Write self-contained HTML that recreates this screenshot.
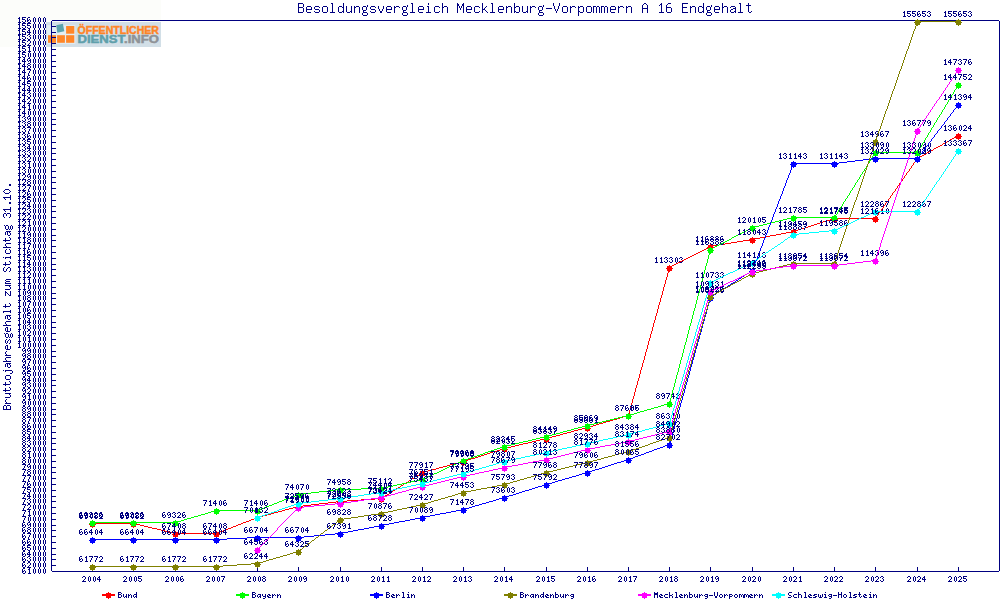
<!DOCTYPE html>
<html lang="de"><head><meta charset="utf-8"><title>Besoldungsvergleich Mecklenburg-Vorpommern A 16 Endgehalt</title><style>html,body{margin:0;padding:0;background:#fff}body{width:1000px;height:600px;overflow:hidden;font-family:"Liberation Sans",sans-serif}svg{display:block}</style></head><body>
<svg width="1000" height="600" viewBox="0 0 1000 600" shape-rendering="crispEdges" role="img" aria-label="Besoldungsvergleich Mecklenburg-Vorpommern A 16 Endgehalt">
<desc>Liniendiagramm: Bruttojahresgehalt zum Stichtag 31.10., Jahre 2004 bis 2025. Reihen: Bund, Bayern, Berlin, Brandenburg, Mecklenburg-Vorpommern, Schleswig-Holstein.</desc>
<defs><path id="l45" d="M1 8h6v1h-6z"/><path id="l49" d="M4 3h1v1h-1zM3 4h2v1h-2zM2 5h1v1h-1zM4 5h1v1h-1zM4 6h1v1h-1zM4 7h1v1h-1zM4 8h1v1h-1zM4 9h1v1h-1zM4 10h1v1h-1zM4 11h1v1h-1zM2 12h5v1h-5z"/><path id="l54" d="M3 3h3v1h-3zM2 4h1v1h-1zM1 5h1v1h-1zM1 6h1v1h-1zM1 7h5v1h-5zM1 8h1v1h-1zM6 8h1v1h-1zM1 9h1v1h-1zM6 9h1v1h-1zM1 10h1v1h-1zM6 10h1v1h-1zM1 11h1v1h-1zM6 11h1v1h-1zM2 12h4v1h-4z"/><path id="l65" d="M3 3h2v1h-2zM2 4h1v1h-1zM5 4h1v1h-1zM1 5h1v1h-1zM6 5h1v1h-1zM1 6h1v1h-1zM6 6h1v1h-1zM1 7h1v1h-1zM6 7h1v1h-1zM1 8h6v1h-6zM1 9h1v1h-1zM6 9h1v1h-1zM1 10h1v1h-1zM6 10h1v1h-1zM1 11h1v1h-1zM6 11h1v1h-1zM1 12h1v1h-1zM6 12h1v1h-1z"/><path id="l66" d="M1 3h5v1h-5zM1 4h1v1h-1zM6 4h1v1h-1zM1 5h1v1h-1zM6 5h1v1h-1zM1 6h1v1h-1zM6 6h1v1h-1zM1 7h5v1h-5zM1 8h1v1h-1zM6 8h1v1h-1zM1 9h1v1h-1zM6 9h1v1h-1zM1 10h1v1h-1zM6 10h1v1h-1zM1 11h1v1h-1zM6 11h1v1h-1zM1 12h5v1h-5z"/><path id="l69" d="M1 3h6v1h-6zM1 4h1v1h-1zM1 5h1v1h-1zM1 6h1v1h-1zM1 7h5v1h-5zM1 8h1v1h-1zM1 9h1v1h-1zM1 10h1v1h-1zM1 11h1v1h-1zM1 12h6v1h-6z"/><path id="l77" d="M0 3h1v1h-1zM6 3h1v1h-1zM0 4h2v1h-2zM5 4h2v1h-2zM0 5h2v1h-2zM5 5h2v1h-2zM0 6h1v1h-1zM2 6h1v1h-1zM4 6h1v1h-1zM6 6h1v1h-1zM0 7h1v1h-1zM2 7h1v1h-1zM4 7h1v1h-1zM6 7h1v1h-1zM0 8h1v1h-1zM3 8h1v1h-1zM6 8h1v1h-1zM0 9h1v1h-1zM3 9h1v1h-1zM6 9h1v1h-1zM0 10h1v1h-1zM6 10h1v1h-1zM0 11h1v1h-1zM6 11h1v1h-1zM0 12h1v1h-1zM6 12h1v1h-1z"/><path id="l86" d="M0 3h1v1h-1zM6 3h1v1h-1zM0 4h1v1h-1zM6 4h1v1h-1zM0 5h1v1h-1zM6 5h1v1h-1zM1 6h1v1h-1zM5 6h1v1h-1zM1 7h1v1h-1zM5 7h1v1h-1zM1 8h1v1h-1zM5 8h1v1h-1zM2 9h1v1h-1zM4 9h1v1h-1zM2 10h1v1h-1zM4 10h1v1h-1zM3 11h1v1h-1zM3 12h1v1h-1z"/><path id="l97" d="M2 6h4v1h-4zM1 7h1v1h-1zM6 7h1v1h-1zM4 8h3v1h-3zM2 9h2v1h-2zM6 9h1v1h-1zM1 10h1v1h-1zM6 10h1v1h-1zM1 11h1v1h-1zM5 11h2v1h-2zM2 12h3v1h-3zM6 12h1v1h-1z"/><path id="l98" d="M1 3h1v1h-1zM1 4h1v1h-1zM1 5h1v1h-1zM1 6h1v1h-1zM3 6h3v1h-3zM1 7h2v1h-2zM6 7h1v1h-1zM1 8h1v1h-1zM6 8h1v1h-1zM1 9h1v1h-1zM6 9h1v1h-1zM1 10h1v1h-1zM6 10h1v1h-1zM1 11h2v1h-2zM6 11h1v1h-1zM1 12h1v1h-1zM3 12h3v1h-3z"/><path id="l99" d="M2 6h4v1h-4zM1 7h1v1h-1zM6 7h1v1h-1zM1 8h1v1h-1zM1 9h1v1h-1zM1 10h1v1h-1zM1 11h1v1h-1zM6 11h1v1h-1zM2 12h4v1h-4z"/><path id="l100" d="M6 3h1v1h-1zM6 4h1v1h-1zM6 5h1v1h-1zM2 6h3v1h-3zM6 6h1v1h-1zM1 7h1v1h-1zM5 7h2v1h-2zM1 8h1v1h-1zM6 8h1v1h-1zM1 9h1v1h-1zM6 9h1v1h-1zM1 10h1v1h-1zM6 10h1v1h-1zM1 11h1v1h-1zM5 11h2v1h-2zM2 12h3v1h-3zM6 12h1v1h-1z"/><path id="l101" d="M2 6h4v1h-4zM1 7h1v1h-1zM6 7h1v1h-1zM1 8h1v1h-1zM6 8h1v1h-1zM1 9h6v1h-6zM1 10h1v1h-1zM1 11h1v1h-1zM2 12h4v1h-4z"/><path id="l103" d="M6 5h1v1h-1zM2 6h3v1h-3zM6 6h1v1h-1zM1 7h1v1h-1zM5 7h1v1h-1zM1 8h1v1h-1zM5 8h1v1h-1zM1 9h1v1h-1zM5 9h1v1h-1zM2 10h3v1h-3zM2 11h1v1h-1zM2 12h4v1h-4zM1 13h1v1h-1zM6 13h1v1h-1zM1 14h1v1h-1zM6 14h1v1h-1zM2 15h4v1h-4z"/><path id="l104" d="M1 3h1v1h-1zM1 4h1v1h-1zM1 5h1v1h-1zM1 6h1v1h-1zM3 6h3v1h-3zM1 7h2v1h-2zM6 7h1v1h-1zM1 8h1v1h-1zM6 8h1v1h-1zM1 9h1v1h-1zM6 9h1v1h-1zM1 10h1v1h-1zM6 10h1v1h-1zM1 11h1v1h-1zM6 11h1v1h-1zM1 12h1v1h-1zM6 12h1v1h-1z"/><path id="l105" d="M3 3h1v1h-1zM3 4h1v1h-1zM2 6h2v1h-2zM3 7h1v1h-1zM3 8h1v1h-1zM3 9h1v1h-1zM3 10h1v1h-1zM3 11h1v1h-1zM1 12h5v1h-5z"/><path id="l107" d="M1 3h1v1h-1zM1 4h1v1h-1zM1 5h1v1h-1zM1 6h1v1h-1zM5 6h1v1h-1zM1 7h1v1h-1zM4 7h1v1h-1zM1 8h1v1h-1zM3 8h1v1h-1zM1 9h3v1h-3zM1 10h1v1h-1zM4 10h1v1h-1zM1 11h1v1h-1zM5 11h1v1h-1zM1 12h1v1h-1zM6 12h1v1h-1z"/><path id="l108" d="M2 3h2v1h-2zM3 4h1v1h-1zM3 5h1v1h-1zM3 6h1v1h-1zM3 7h1v1h-1zM3 8h1v1h-1zM3 9h1v1h-1zM3 10h1v1h-1zM3 11h1v1h-1zM1 12h5v1h-5z"/><path id="l109" d="M0 6h3v1h-3zM4 6h2v1h-2zM0 7h1v1h-1zM3 7h1v1h-1zM6 7h1v1h-1zM0 8h1v1h-1zM3 8h1v1h-1zM6 8h1v1h-1zM0 9h1v1h-1zM3 9h1v1h-1zM6 9h1v1h-1zM0 10h1v1h-1zM3 10h1v1h-1zM6 10h1v1h-1zM0 11h1v1h-1zM3 11h1v1h-1zM6 11h1v1h-1zM0 12h1v1h-1zM3 12h1v1h-1zM6 12h1v1h-1z"/><path id="l110" d="M1 6h1v1h-1zM3 6h3v1h-3zM1 7h2v1h-2zM6 7h1v1h-1zM1 8h1v1h-1zM6 8h1v1h-1zM1 9h1v1h-1zM6 9h1v1h-1zM1 10h1v1h-1zM6 10h1v1h-1zM1 11h1v1h-1zM6 11h1v1h-1zM1 12h1v1h-1zM6 12h1v1h-1z"/><path id="l111" d="M2 6h4v1h-4zM1 7h1v1h-1zM6 7h1v1h-1zM1 8h1v1h-1zM6 8h1v1h-1zM1 9h1v1h-1zM6 9h1v1h-1zM1 10h1v1h-1zM6 10h1v1h-1zM1 11h1v1h-1zM6 11h1v1h-1zM2 12h4v1h-4z"/><path id="l112" d="M1 6h1v1h-1zM3 6h3v1h-3zM1 7h2v1h-2zM6 7h1v1h-1zM1 8h1v1h-1zM6 8h1v1h-1zM1 9h1v1h-1zM6 9h1v1h-1zM1 10h1v1h-1zM6 10h1v1h-1zM1 11h2v1h-2zM6 11h1v1h-1zM1 12h1v1h-1zM3 12h3v1h-3zM1 13h1v1h-1zM1 14h1v1h-1zM1 15h1v1h-1z"/><path id="l114" d="M1 6h1v1h-1zM3 6h3v1h-3zM1 7h2v1h-2zM6 7h1v1h-1zM1 8h1v1h-1zM1 9h1v1h-1zM1 10h1v1h-1zM1 11h1v1h-1zM1 12h1v1h-1z"/><path id="l115" d="M2 6h4v1h-4zM1 7h1v1h-1zM6 7h1v1h-1zM1 8h1v1h-1zM2 9h4v1h-4zM6 10h1v1h-1zM1 11h1v1h-1zM6 11h1v1h-1zM2 12h4v1h-4z"/><path id="l116" d="M3 3h1v1h-1zM3 4h1v1h-1zM1 5h5v1h-5zM3 6h1v1h-1zM3 7h1v1h-1zM3 8h1v1h-1zM3 9h1v1h-1zM3 10h1v1h-1zM3 11h1v1h-1zM6 11h1v1h-1zM4 12h2v1h-2z"/><path id="l117" d="M1 6h1v1h-1zM6 6h1v1h-1zM1 7h1v1h-1zM6 7h1v1h-1zM1 8h1v1h-1zM6 8h1v1h-1zM1 9h1v1h-1zM6 9h1v1h-1zM1 10h1v1h-1zM6 10h1v1h-1zM1 11h1v1h-1zM5 11h2v1h-2zM2 12h3v1h-3zM6 12h1v1h-1z"/><path id="l118" d="M1 6h1v1h-1zM6 6h1v1h-1zM1 7h1v1h-1zM6 7h1v1h-1zM1 8h1v1h-1zM6 8h1v1h-1zM2 9h1v1h-1zM5 9h1v1h-1zM2 10h1v1h-1zM5 10h1v1h-1zM3 11h2v1h-2zM3 12h2v1h-2z"/><path id="s46" d="M2 9h2v1h-2zM2 10h2v1h-2z"/><path id="s48" d="M2 3h1v1h-1zM1 4h1v1h-1zM3 4h1v1h-1zM0 5h1v1h-1zM4 5h1v1h-1zM0 6h1v1h-1zM4 6h1v1h-1zM0 7h1v1h-1zM4 7h1v1h-1zM0 8h1v1h-1zM4 8h1v1h-1zM1 9h1v1h-1zM3 9h1v1h-1zM2 10h1v1h-1z"/><path id="s49" d="M2 3h1v1h-1zM1 4h2v1h-2zM0 5h1v1h-1zM2 5h1v1h-1zM2 6h1v1h-1zM2 7h1v1h-1zM2 8h1v1h-1zM2 9h1v1h-1zM0 10h5v1h-5z"/><path id="s51" d="M1 3h3v1h-3zM0 4h1v1h-1zM4 4h1v1h-1zM4 5h1v1h-1zM2 6h2v1h-2zM4 7h1v1h-1zM4 8h1v1h-1zM0 9h1v1h-1zM4 9h1v1h-1zM1 10h3v1h-3z"/><path id="s66" d="M0 3h4v1h-4zM0 4h1v1h-1zM4 4h1v1h-1zM0 5h1v1h-1zM4 5h1v1h-1zM0 6h4v1h-4zM0 7h1v1h-1zM4 7h1v1h-1zM0 8h1v1h-1zM4 8h1v1h-1zM0 9h1v1h-1zM4 9h1v1h-1zM0 10h4v1h-4z"/><path id="s83" d="M1 3h3v1h-3zM0 4h1v1h-1zM4 4h1v1h-1zM0 5h1v1h-1zM1 6h2v1h-2zM3 7h1v1h-1zM4 8h1v1h-1zM0 9h1v1h-1zM4 9h1v1h-1zM1 10h3v1h-3z"/><path id="s97" d="M1 5h3v1h-3zM4 6h1v1h-1zM1 7h4v1h-4zM0 8h1v1h-1zM4 8h1v1h-1zM0 9h1v1h-1zM3 9h2v1h-2zM1 10h2v1h-2zM4 10h1v1h-1z"/><path id="s99" d="M1 5h3v1h-3zM0 6h1v1h-1zM4 6h1v1h-1zM0 7h1v1h-1zM0 8h1v1h-1zM0 9h1v1h-1zM4 9h1v1h-1zM1 10h3v1h-3z"/><path id="s101" d="M1 5h3v1h-3zM0 6h1v1h-1zM4 6h1v1h-1zM0 7h5v1h-5zM0 8h1v1h-1zM0 9h1v1h-1zM1 10h3v1h-3z"/><path id="s103" d="M4 4h1v1h-1zM1 5h3v1h-3zM0 6h1v1h-1zM4 6h1v1h-1zM0 7h1v1h-1zM4 7h1v1h-1zM1 8h3v1h-3zM0 9h1v1h-1zM1 10h3v1h-3zM0 11h1v1h-1zM4 11h1v1h-1zM1 12h3v1h-3z"/><path id="s104" d="M0 3h1v1h-1zM0 4h1v1h-1zM0 5h1v1h-1zM2 5h2v1h-2zM0 6h2v1h-2zM4 6h1v1h-1zM0 7h1v1h-1zM4 7h1v1h-1zM0 8h1v1h-1zM4 8h1v1h-1zM0 9h1v1h-1zM4 9h1v1h-1zM0 10h1v1h-1zM4 10h1v1h-1z"/><path id="s105" d="M2 3h1v1h-1zM1 5h2v1h-2zM2 6h1v1h-1zM2 7h1v1h-1zM2 8h1v1h-1zM2 9h1v1h-1zM1 10h3v1h-3z"/><path id="s106" d="M3 3h1v1h-1zM2 5h2v1h-2zM3 6h1v1h-1zM3 7h1v1h-1zM3 8h1v1h-1zM3 9h1v1h-1zM0 10h1v1h-1zM3 10h1v1h-1zM0 11h1v1h-1zM3 11h1v1h-1zM1 12h2v1h-2z"/><path id="s108" d="M1 3h2v1h-2zM2 4h1v1h-1zM2 5h1v1h-1zM2 6h1v1h-1zM2 7h1v1h-1zM2 8h1v1h-1zM2 9h1v1h-1zM1 10h3v1h-3z"/><path id="s109" d="M0 5h2v1h-2zM3 5h1v1h-1zM0 6h1v1h-1zM2 6h1v1h-1zM4 6h1v1h-1zM0 7h1v1h-1zM2 7h1v1h-1zM4 7h1v1h-1zM0 8h1v1h-1zM2 8h1v1h-1zM4 8h1v1h-1zM0 9h1v1h-1zM2 9h1v1h-1zM4 9h1v1h-1zM0 10h1v1h-1zM4 10h1v1h-1z"/><path id="s111" d="M1 5h3v1h-3zM0 6h1v1h-1zM4 6h1v1h-1zM0 7h1v1h-1zM4 7h1v1h-1zM0 8h1v1h-1zM4 8h1v1h-1zM0 9h1v1h-1zM4 9h1v1h-1zM1 10h3v1h-3z"/><path id="s114" d="M0 5h1v1h-1zM2 5h2v1h-2zM0 6h2v1h-2zM4 6h1v1h-1zM0 7h1v1h-1zM0 8h1v1h-1zM0 9h1v1h-1zM0 10h1v1h-1z"/><path id="s115" d="M1 5h3v1h-3zM0 6h1v1h-1zM4 6h1v1h-1zM1 7h2v1h-2zM3 8h1v1h-1zM0 9h1v1h-1zM4 9h1v1h-1zM1 10h3v1h-3z"/><path id="s116" d="M1 3h1v1h-1zM1 4h1v1h-1zM0 5h4v1h-4zM1 6h1v1h-1zM1 7h1v1h-1zM1 8h1v1h-1zM1 9h1v1h-1zM4 9h1v1h-1zM2 10h2v1h-2z"/><path id="s117" d="M0 5h1v1h-1zM4 5h1v1h-1zM0 6h1v1h-1zM4 6h1v1h-1zM0 7h1v1h-1zM4 7h1v1h-1zM0 8h1v1h-1zM4 8h1v1h-1zM0 9h1v1h-1zM3 9h2v1h-2zM1 10h2v1h-2zM4 10h1v1h-1z"/><path id="s122" d="M0 5h5v1h-5zM3 6h1v1h-1zM2 7h1v1h-1zM1 8h1v1h-1zM0 9h1v1h-1zM0 10h5v1h-5z"/><path id="t45" d="M0 4h4v1h-4z"/><path id="t48" d="M2 1h1v1h-1zM1 2h1v1h-1zM3 2h1v1h-1zM1 3h1v1h-1zM3 3h1v1h-1zM1 4h1v1h-1zM3 4h1v1h-1zM1 5h1v1h-1zM3 5h1v1h-1zM2 6h1v1h-1z"/><path id="t49" d="M2 1h1v1h-1zM1 2h2v1h-2zM2 3h1v1h-1zM2 4h1v1h-1zM2 5h1v1h-1zM1 6h3v1h-3z"/><path id="t50" d="M1 1h2v1h-2zM0 2h1v1h-1zM3 2h1v1h-1zM3 3h1v1h-1zM2 4h1v1h-1zM1 5h1v1h-1zM0 6h4v1h-4z"/><path id="t51" d="M1 1h2v1h-2zM0 2h1v1h-1zM3 2h1v1h-1zM2 3h1v1h-1zM3 4h1v1h-1zM0 5h1v1h-1zM3 5h1v1h-1zM1 6h2v1h-2z"/><path id="t52" d="M2 1h1v1h-1zM1 2h2v1h-2zM0 3h1v1h-1zM2 3h1v1h-1zM0 4h4v1h-4zM2 5h1v1h-1zM2 6h1v1h-1z"/><path id="t53" d="M0 1h4v1h-4zM0 2h1v1h-1zM0 3h3v1h-3zM3 4h1v1h-1zM0 5h1v1h-1zM3 5h1v1h-1zM1 6h2v1h-2z"/><path id="t54" d="M1 1h2v1h-2zM0 2h1v1h-1zM0 3h1v1h-1zM2 3h1v1h-1zM0 4h2v1h-2zM3 4h1v1h-1zM0 5h1v1h-1zM3 5h1v1h-1zM1 6h2v1h-2z"/><path id="t55" d="M0 1h4v1h-4zM3 2h1v1h-1zM2 3h1v1h-1zM2 4h1v1h-1zM1 5h1v1h-1zM1 6h1v1h-1z"/><path id="t56" d="M1 1h2v1h-2zM0 2h1v1h-1zM3 2h1v1h-1zM1 3h2v1h-2zM0 4h1v1h-1zM3 4h1v1h-1zM0 5h1v1h-1zM3 5h1v1h-1zM1 6h2v1h-2z"/><path id="t57" d="M1 1h2v1h-2zM0 2h1v1h-1zM3 2h1v1h-1zM0 3h1v1h-1zM2 3h2v1h-2zM1 4h1v1h-1zM3 4h1v1h-1zM3 5h1v1h-1zM1 6h2v1h-2z"/><path id="t66" d="M0 1h3v1h-3zM0 2h1v1h-1zM3 2h1v1h-1zM0 3h3v1h-3zM0 4h1v1h-1zM3 4h1v1h-1zM0 5h1v1h-1zM3 5h1v1h-1zM0 6h3v1h-3z"/><path id="t72" d="M0 1h1v1h-1zM3 1h1v1h-1zM0 2h1v1h-1zM3 2h1v1h-1zM0 3h4v1h-4zM0 4h1v1h-1zM3 4h1v1h-1zM0 5h1v1h-1zM3 5h1v1h-1zM0 6h1v1h-1zM3 6h1v1h-1z"/><path id="t77" d="M0 1h1v1h-1zM3 1h1v1h-1zM0 2h4v1h-4zM0 3h4v1h-4zM0 4h1v1h-1zM3 4h1v1h-1zM0 5h1v1h-1zM3 5h1v1h-1zM0 6h1v1h-1zM3 6h1v1h-1z"/><path id="t83" d="M1 1h3v1h-3zM0 2h1v1h-1zM0 3h1v1h-1zM1 4h2v1h-2zM3 5h1v1h-1zM0 6h3v1h-3z"/><path id="t86" d="M0 1h1v1h-1zM3 1h1v1h-1zM0 2h1v1h-1zM3 2h1v1h-1zM0 3h1v1h-1zM3 3h1v1h-1zM0 4h1v1h-1zM3 4h1v1h-1zM1 5h2v1h-2zM1 6h2v1h-2z"/><path id="t97" d="M1 3h3v1h-3zM0 4h1v1h-1zM3 4h1v1h-1zM0 5h1v1h-1zM2 5h2v1h-2zM1 6h1v1h-1zM3 6h1v1h-1z"/><path id="t98" d="M0 1h1v1h-1zM0 2h1v1h-1zM0 3h3v1h-3zM0 4h1v1h-1zM3 4h1v1h-1zM0 5h1v1h-1zM3 5h1v1h-1zM0 6h3v1h-3z"/><path id="t99" d="M1 3h3v1h-3zM0 4h1v1h-1zM0 5h1v1h-1zM1 6h3v1h-3z"/><path id="t100" d="M3 1h1v1h-1zM3 2h1v1h-1zM1 3h3v1h-3zM0 4h1v1h-1zM3 4h1v1h-1zM0 5h1v1h-1zM2 5h2v1h-2zM1 6h1v1h-1zM3 6h1v1h-1z"/><path id="t101" d="M1 3h2v1h-2zM0 4h1v1h-1zM2 4h2v1h-2zM0 5h2v1h-2zM1 6h3v1h-3z"/><path id="t103" d="M1 3h3v1h-3zM0 4h1v1h-1zM3 4h1v1h-1zM1 5h3v1h-3zM3 6h1v1h-1zM1 7h2v1h-2z"/><path id="t104" d="M0 1h1v1h-1zM0 2h1v1h-1zM0 3h3v1h-3zM0 4h1v1h-1zM3 4h1v1h-1zM0 5h1v1h-1zM3 5h1v1h-1zM0 6h1v1h-1zM3 6h1v1h-1z"/><path id="t105" d="M2 1h1v1h-1zM1 3h2v1h-2zM2 4h1v1h-1zM2 5h1v1h-1zM1 6h3v1h-3z"/><path id="t107" d="M0 1h1v1h-1zM0 2h1v1h-1zM0 3h1v1h-1zM3 3h1v1h-1zM0 4h3v1h-3zM0 5h1v1h-1zM3 5h1v1h-1zM0 6h1v1h-1zM3 6h1v1h-1z"/><path id="t108" d="M1 1h2v1h-2zM2 2h1v1h-1zM2 3h1v1h-1zM2 4h1v1h-1zM2 5h1v1h-1zM1 6h3v1h-3z"/><path id="t109" d="M0 3h2v1h-2zM3 3h1v1h-1zM0 4h1v1h-1zM2 4h1v1h-1zM4 4h1v1h-1zM0 5h1v1h-1zM2 5h1v1h-1zM4 5h1v1h-1zM0 6h1v1h-1zM4 6h1v1h-1z"/><path id="t110" d="M0 3h1v1h-1zM2 3h1v1h-1zM0 4h2v1h-2zM3 4h1v1h-1zM0 5h1v1h-1zM3 5h1v1h-1zM0 6h1v1h-1zM3 6h1v1h-1z"/><path id="t111" d="M1 3h2v1h-2zM0 4h1v1h-1zM3 4h1v1h-1zM0 5h1v1h-1zM3 5h1v1h-1zM1 6h2v1h-2z"/><path id="t112" d="M0 3h3v1h-3zM0 4h1v1h-1zM3 4h1v1h-1zM0 5h3v1h-3zM0 6h1v1h-1zM0 7h1v1h-1z"/><path id="t114" d="M0 3h1v1h-1zM2 3h1v1h-1zM0 4h2v1h-2zM3 4h1v1h-1zM0 5h1v1h-1zM0 6h1v1h-1z"/><path id="t115" d="M1 3h3v1h-3zM0 4h2v1h-2zM2 5h2v1h-2zM0 6h3v1h-3z"/><path id="t116" d="M1 1h1v1h-1zM1 2h1v1h-1zM0 3h3v1h-3zM1 4h1v1h-1zM1 5h1v1h-1zM3 5h1v1h-1zM2 6h1v1h-1z"/><path id="t117" d="M0 3h1v1h-1zM3 3h1v1h-1zM0 4h1v1h-1zM3 4h1v1h-1zM0 5h1v1h-1zM2 5h2v1h-2zM1 6h1v1h-1zM3 6h1v1h-1z"/><path id="t119" d="M0 3h1v1h-1zM4 3h1v1h-1zM0 4h1v1h-1zM2 4h1v1h-1zM4 4h1v1h-1zM0 5h1v1h-1zM2 5h1v1h-1zM4 5h1v1h-1zM1 6h3v1h-3z"/><path id="t121" d="M0 3h1v1h-1zM3 3h1v1h-1zM0 4h1v1h-1zM3 4h1v1h-1zM1 5h3v1h-3zM3 6h1v1h-1zM1 7h2v1h-2z"/><path id="mk" d="M-2 -2h5v5h-5zM-3 0h7v1h-7zM0 -3h1v7h-1z"/><path id="mk5" d="M-2 -2h5v5h-5zM0 -3h1v7h-1z"/></defs>
<rect width="1000" height="600" fill="#fff"/>
<rect x="0" y="0" width="161" height="47" fill="#fcfdfa"/>
<g id="logo"><rect x="46" y="22" width="115" height="25" fill="#d2dfe7"/><g shape-rendering="auto"><rect x="47" y="25.2" width="28.3" height="18.6" fill="#e4edf2"/><rect x="48" y="35.2" width="8" height="7.6" fill="#ff8628"/><rect x="57.1" y="35.2" width="7.8" height="7.6" fill="#ff8628"/><rect x="66.1" y="35.2" width="8.2" height="7.6" fill="#ff8628"/><rect x="66.1" y="26" width="8.2" height="7.7" fill="#ff8628"/></g><polygon points="56.2,25.2 62.9,23.7 64.3,31.3 57.3,32.8" fill="#5ba3ad" shape-rendering="auto"/><text x="77.5" y="33.6" font-family="Liberation Sans, sans-serif" font-weight="bold" font-size="10.2" fill="#ff8426" stroke="#ff8426" stroke-width="0.45" textLength="81.5" lengthAdjust="spacingAndGlyphs">ÖFFENTLICHER</text><text x="77.5" y="43.1" font-family="Liberation Sans, sans-serif" font-weight="bold" font-size="10.2" textLength="81.5" lengthAdjust="spacingAndGlyphs"><tspan fill="#5f9fab" stroke="#5f9fab" stroke-width="0.45">DIENST</tspan><tspan fill="#8f9297" stroke="#8f9297" stroke-width="0.45">.INFO</tspan></text></g>
<g id="title" fill="#000080"><use href="#l66" x="297" y="0"/><use href="#l101" x="305" y="0"/><use href="#l115" x="313" y="0"/><use href="#l111" x="321" y="0"/><use href="#l108" x="329" y="0"/><use href="#l100" x="337" y="0"/><use href="#l117" x="345" y="0"/><use href="#l110" x="353" y="0"/><use href="#l103" x="361" y="0"/><use href="#l115" x="369" y="0"/><use href="#l118" x="377" y="0"/><use href="#l101" x="385" y="0"/><use href="#l114" x="393" y="0"/><use href="#l103" x="401" y="0"/><use href="#l108" x="409" y="0"/><use href="#l101" x="417" y="0"/><use href="#l105" x="425" y="0"/><use href="#l99" x="433" y="0"/><use href="#l104" x="441" y="0"/><use href="#l77" x="457" y="0"/><use href="#l101" x="465" y="0"/><use href="#l99" x="473" y="0"/><use href="#l107" x="481" y="0"/><use href="#l108" x="489" y="0"/><use href="#l101" x="497" y="0"/><use href="#l110" x="505" y="0"/><use href="#l98" x="513" y="0"/><use href="#l117" x="521" y="0"/><use href="#l114" x="529" y="0"/><use href="#l103" x="537" y="0"/><use href="#l45" x="545" y="0"/><use href="#l86" x="553" y="0"/><use href="#l111" x="561" y="0"/><use href="#l114" x="569" y="0"/><use href="#l112" x="577" y="0"/><use href="#l111" x="585" y="0"/><use href="#l109" x="593" y="0"/><use href="#l109" x="601" y="0"/><use href="#l101" x="609" y="0"/><use href="#l114" x="617" y="0"/><use href="#l110" x="625" y="0"/><use href="#l65" x="641" y="0"/><use href="#l49" x="657" y="0"/><use href="#l54" x="665" y="0"/><use href="#l69" x="681" y="0"/><use href="#l110" x="689" y="0"/><use href="#l100" x="697" y="0"/><use href="#l103" x="705" y="0"/><use href="#l101" x="713" y="0"/><use href="#l104" x="721" y="0"/><use href="#l97" x="729" y="0"/><use href="#l108" x="737" y="0"/><use href="#l116" x="745" y="0"/></g>
<g id="ytitle" fill="#000080" transform="translate(0,410) rotate(-90)"><use href="#s66" x="0" y="0"/><use href="#s114" x="6" y="0"/><use href="#s117" x="12" y="0"/><use href="#s116" x="18" y="0"/><use href="#s116" x="24" y="0"/><use href="#s111" x="30" y="0"/><use href="#s106" x="36" y="0"/><use href="#s97" x="42" y="0"/><use href="#s104" x="48" y="0"/><use href="#s114" x="54" y="0"/><use href="#s101" x="60" y="0"/><use href="#s115" x="66" y="0"/><use href="#s103" x="72" y="0"/><use href="#s101" x="78" y="0"/><use href="#s104" x="84" y="0"/><use href="#s97" x="90" y="0"/><use href="#s108" x="96" y="0"/><use href="#s116" x="102" y="0"/><use href="#s122" x="114" y="0"/><use href="#s117" x="120" y="0"/><use href="#s109" x="126" y="0"/><use href="#s83" x="138" y="0"/><use href="#s116" x="144" y="0"/><use href="#s105" x="150" y="0"/><use href="#s99" x="156" y="0"/><use href="#s104" x="162" y="0"/><use href="#s116" x="168" y="0"/><use href="#s97" x="174" y="0"/><use href="#s103" x="180" y="0"/><use href="#s51" x="192" y="0"/><use href="#s49" x="198" y="0"/><use href="#s46" x="204" y="0"/><use href="#s49" x="210" y="0"/><use href="#s48" x="216" y="0"/><use href="#s46" x="222" y="0"/></g>
<g id="axes" fill="#000080"><path d="M51 20h949v1h-949zM51 571h949v1h-949zM51 20v552h1v-552zM999 20v552h1v-552z"/><path d="M52 565h4v1h-4zM52 559h4v1h-4zM52 554h4v1h-4zM52 548h4v1h-4zM52 542h4v1h-4zM52 536h4v1h-4zM52 530h4v1h-4zM52 525h4v1h-4zM52 519h4v1h-4zM52 513h4v1h-4zM52 507h4v1h-4zM52 501h4v1h-4zM52 496h4v1h-4zM52 490h4v1h-4zM52 484h4v1h-4zM52 478h4v1h-4zM52 472h4v1h-4zM52 467h4v1h-4zM52 461h4v1h-4zM52 455h4v1h-4zM52 449h4v1h-4zM52 443h4v1h-4zM52 438h4v1h-4zM52 432h4v1h-4zM52 426h4v1h-4zM52 420h4v1h-4zM52 414h4v1h-4zM52 409h4v1h-4zM52 403h4v1h-4zM52 397h4v1h-4zM52 391h4v1h-4zM52 385h4v1h-4zM52 380h4v1h-4zM52 374h4v1h-4zM52 368h4v1h-4zM52 362h4v1h-4zM52 356h4v1h-4zM52 351h4v1h-4zM52 345h4v1h-4zM52 339h4v1h-4zM52 333h4v1h-4zM52 327h4v1h-4zM52 322h4v1h-4zM52 316h4v1h-4zM52 310h4v1h-4zM52 304h4v1h-4zM52 298h4v1h-4zM52 293h4v1h-4zM52 287h4v1h-4zM52 281h4v1h-4zM52 275h4v1h-4zM52 269h4v1h-4zM52 264h4v1h-4zM52 258h4v1h-4zM52 252h4v1h-4zM52 246h4v1h-4zM52 240h4v1h-4zM52 235h4v1h-4zM52 229h4v1h-4zM52 223h4v1h-4zM52 217h4v1h-4zM52 211h4v1h-4zM52 206h4v1h-4zM52 200h4v1h-4zM52 194h4v1h-4zM52 188h4v1h-4zM52 182h4v1h-4zM52 177h4v1h-4zM52 171h4v1h-4zM52 165h4v1h-4zM52 159h4v1h-4zM52 153h4v1h-4zM52 148h4v1h-4zM52 142h4v1h-4zM52 136h4v1h-4zM52 130h4v1h-4zM52 124h4v1h-4zM52 119h4v1h-4zM52 113h4v1h-4zM52 107h4v1h-4zM52 101h4v1h-4zM52 95h4v1h-4zM52 90h4v1h-4zM52 84h4v1h-4zM52 78h4v1h-4zM52 72h4v1h-4zM52 66h4v1h-4zM52 61h4v1h-4zM52 55h4v1h-4zM52 49h4v1h-4zM52 43h4v1h-4zM52 37h4v1h-4zM52 32h4v1h-4zM52 26h4v1h-4zM92 567v4h1v-4zM133 567v4h1v-4zM175 567v4h1v-4zM216 567v4h1v-4zM257 567v4h1v-4zM298 567v4h1v-4zM340 567v4h1v-4zM381 567v4h1v-4zM422 567v4h1v-4zM463 567v4h1v-4zM504 567v4h1v-4zM546 567v4h1v-4zM587 567v4h1v-4zM628 567v4h1v-4zM669 567v4h1v-4zM710 567v4h1v-4zM752 567v4h1v-4zM793 567v4h1v-4zM834 567v4h1v-4zM875 567v4h1v-4zM917 567v4h1v-4zM958 567v4h1v-4z"/><use href="#t54" x="22" y="567"/><use href="#t49" x="27" y="567"/><use href="#t48" x="32" y="567"/><use href="#t48" x="37" y="567"/><use href="#t48" x="42" y="567"/><use href="#t54" x="22" y="561"/><use href="#t50" x="27" y="561"/><use href="#t48" x="32" y="561"/><use href="#t48" x="37" y="561"/><use href="#t48" x="42" y="561"/><use href="#t54" x="22" y="555"/><use href="#t51" x="27" y="555"/><use href="#t48" x="32" y="555"/><use href="#t48" x="37" y="555"/><use href="#t48" x="42" y="555"/><use href="#t54" x="22" y="550"/><use href="#t52" x="27" y="550"/><use href="#t48" x="32" y="550"/><use href="#t48" x="37" y="550"/><use href="#t48" x="42" y="550"/><use href="#t54" x="22" y="544"/><use href="#t53" x="27" y="544"/><use href="#t48" x="32" y="544"/><use href="#t48" x="37" y="544"/><use href="#t48" x="42" y="544"/><use href="#t54" x="22" y="538"/><use href="#t54" x="27" y="538"/><use href="#t48" x="32" y="538"/><use href="#t48" x="37" y="538"/><use href="#t48" x="42" y="538"/><use href="#t54" x="22" y="532"/><use href="#t55" x="27" y="532"/><use href="#t48" x="32" y="532"/><use href="#t48" x="37" y="532"/><use href="#t48" x="42" y="532"/><use href="#t54" x="22" y="526"/><use href="#t56" x="27" y="526"/><use href="#t48" x="32" y="526"/><use href="#t48" x="37" y="526"/><use href="#t48" x="42" y="526"/><use href="#t54" x="22" y="521"/><use href="#t57" x="27" y="521"/><use href="#t48" x="32" y="521"/><use href="#t48" x="37" y="521"/><use href="#t48" x="42" y="521"/><use href="#t55" x="22" y="515"/><use href="#t48" x="27" y="515"/><use href="#t48" x="32" y="515"/><use href="#t48" x="37" y="515"/><use href="#t48" x="42" y="515"/><use href="#t55" x="22" y="509"/><use href="#t49" x="27" y="509"/><use href="#t48" x="32" y="509"/><use href="#t48" x="37" y="509"/><use href="#t48" x="42" y="509"/><use href="#t55" x="22" y="503"/><use href="#t50" x="27" y="503"/><use href="#t48" x="32" y="503"/><use href="#t48" x="37" y="503"/><use href="#t48" x="42" y="503"/><use href="#t55" x="22" y="497"/><use href="#t51" x="27" y="497"/><use href="#t48" x="32" y="497"/><use href="#t48" x="37" y="497"/><use href="#t48" x="42" y="497"/><use href="#t55" x="22" y="492"/><use href="#t52" x="27" y="492"/><use href="#t48" x="32" y="492"/><use href="#t48" x="37" y="492"/><use href="#t48" x="42" y="492"/><use href="#t55" x="22" y="486"/><use href="#t53" x="27" y="486"/><use href="#t48" x="32" y="486"/><use href="#t48" x="37" y="486"/><use href="#t48" x="42" y="486"/><use href="#t55" x="22" y="480"/><use href="#t54" x="27" y="480"/><use href="#t48" x="32" y="480"/><use href="#t48" x="37" y="480"/><use href="#t48" x="42" y="480"/><use href="#t55" x="22" y="474"/><use href="#t55" x="27" y="474"/><use href="#t48" x="32" y="474"/><use href="#t48" x="37" y="474"/><use href="#t48" x="42" y="474"/><use href="#t55" x="22" y="468"/><use href="#t56" x="27" y="468"/><use href="#t48" x="32" y="468"/><use href="#t48" x="37" y="468"/><use href="#t48" x="42" y="468"/><use href="#t55" x="22" y="463"/><use href="#t57" x="27" y="463"/><use href="#t48" x="32" y="463"/><use href="#t48" x="37" y="463"/><use href="#t48" x="42" y="463"/><use href="#t56" x="22" y="457"/><use href="#t48" x="27" y="457"/><use href="#t48" x="32" y="457"/><use href="#t48" x="37" y="457"/><use href="#t48" x="42" y="457"/><use href="#t56" x="22" y="451"/><use href="#t49" x="27" y="451"/><use href="#t48" x="32" y="451"/><use href="#t48" x="37" y="451"/><use href="#t48" x="42" y="451"/><use href="#t56" x="22" y="445"/><use href="#t50" x="27" y="445"/><use href="#t48" x="32" y="445"/><use href="#t48" x="37" y="445"/><use href="#t48" x="42" y="445"/><use href="#t56" x="22" y="439"/><use href="#t51" x="27" y="439"/><use href="#t48" x="32" y="439"/><use href="#t48" x="37" y="439"/><use href="#t48" x="42" y="439"/><use href="#t56" x="22" y="434"/><use href="#t52" x="27" y="434"/><use href="#t48" x="32" y="434"/><use href="#t48" x="37" y="434"/><use href="#t48" x="42" y="434"/><use href="#t56" x="22" y="428"/><use href="#t53" x="27" y="428"/><use href="#t48" x="32" y="428"/><use href="#t48" x="37" y="428"/><use href="#t48" x="42" y="428"/><use href="#t56" x="22" y="422"/><use href="#t54" x="27" y="422"/><use href="#t48" x="32" y="422"/><use href="#t48" x="37" y="422"/><use href="#t48" x="42" y="422"/><use href="#t56" x="22" y="416"/><use href="#t55" x="27" y="416"/><use href="#t48" x="32" y="416"/><use href="#t48" x="37" y="416"/><use href="#t48" x="42" y="416"/><use href="#t56" x="22" y="410"/><use href="#t56" x="27" y="410"/><use href="#t48" x="32" y="410"/><use href="#t48" x="37" y="410"/><use href="#t48" x="42" y="410"/><use href="#t56" x="22" y="405"/><use href="#t57" x="27" y="405"/><use href="#t48" x="32" y="405"/><use href="#t48" x="37" y="405"/><use href="#t48" x="42" y="405"/><use href="#t57" x="22" y="399"/><use href="#t48" x="27" y="399"/><use href="#t48" x="32" y="399"/><use href="#t48" x="37" y="399"/><use href="#t48" x="42" y="399"/><use href="#t57" x="22" y="393"/><use href="#t49" x="27" y="393"/><use href="#t48" x="32" y="393"/><use href="#t48" x="37" y="393"/><use href="#t48" x="42" y="393"/><use href="#t57" x="22" y="387"/><use href="#t50" x="27" y="387"/><use href="#t48" x="32" y="387"/><use href="#t48" x="37" y="387"/><use href="#t48" x="42" y="387"/><use href="#t57" x="22" y="381"/><use href="#t51" x="27" y="381"/><use href="#t48" x="32" y="381"/><use href="#t48" x="37" y="381"/><use href="#t48" x="42" y="381"/><use href="#t57" x="22" y="376"/><use href="#t52" x="27" y="376"/><use href="#t48" x="32" y="376"/><use href="#t48" x="37" y="376"/><use href="#t48" x="42" y="376"/><use href="#t57" x="22" y="370"/><use href="#t53" x="27" y="370"/><use href="#t48" x="32" y="370"/><use href="#t48" x="37" y="370"/><use href="#t48" x="42" y="370"/><use href="#t57" x="22" y="364"/><use href="#t54" x="27" y="364"/><use href="#t48" x="32" y="364"/><use href="#t48" x="37" y="364"/><use href="#t48" x="42" y="364"/><use href="#t57" x="22" y="358"/><use href="#t55" x="27" y="358"/><use href="#t48" x="32" y="358"/><use href="#t48" x="37" y="358"/><use href="#t48" x="42" y="358"/><use href="#t57" x="22" y="352"/><use href="#t56" x="27" y="352"/><use href="#t48" x="32" y="352"/><use href="#t48" x="37" y="352"/><use href="#t48" x="42" y="352"/><use href="#t57" x="22" y="347"/><use href="#t57" x="27" y="347"/><use href="#t48" x="32" y="347"/><use href="#t48" x="37" y="347"/><use href="#t48" x="42" y="347"/><use href="#t49" x="17" y="341"/><use href="#t48" x="22" y="341"/><use href="#t48" x="27" y="341"/><use href="#t48" x="32" y="341"/><use href="#t48" x="37" y="341"/><use href="#t48" x="42" y="341"/><use href="#t49" x="17" y="335"/><use href="#t48" x="22" y="335"/><use href="#t49" x="27" y="335"/><use href="#t48" x="32" y="335"/><use href="#t48" x="37" y="335"/><use href="#t48" x="42" y="335"/><use href="#t49" x="17" y="329"/><use href="#t48" x="22" y="329"/><use href="#t50" x="27" y="329"/><use href="#t48" x="32" y="329"/><use href="#t48" x="37" y="329"/><use href="#t48" x="42" y="329"/><use href="#t49" x="17" y="323"/><use href="#t48" x="22" y="323"/><use href="#t51" x="27" y="323"/><use href="#t48" x="32" y="323"/><use href="#t48" x="37" y="323"/><use href="#t48" x="42" y="323"/><use href="#t49" x="17" y="318"/><use href="#t48" x="22" y="318"/><use href="#t52" x="27" y="318"/><use href="#t48" x="32" y="318"/><use href="#t48" x="37" y="318"/><use href="#t48" x="42" y="318"/><use href="#t49" x="17" y="312"/><use href="#t48" x="22" y="312"/><use href="#t53" x="27" y="312"/><use href="#t48" x="32" y="312"/><use href="#t48" x="37" y="312"/><use href="#t48" x="42" y="312"/><use href="#t49" x="17" y="306"/><use href="#t48" x="22" y="306"/><use href="#t54" x="27" y="306"/><use href="#t48" x="32" y="306"/><use href="#t48" x="37" y="306"/><use href="#t48" x="42" y="306"/><use href="#t49" x="17" y="300"/><use href="#t48" x="22" y="300"/><use href="#t55" x="27" y="300"/><use href="#t48" x="32" y="300"/><use href="#t48" x="37" y="300"/><use href="#t48" x="42" y="300"/><use href="#t49" x="17" y="294"/><use href="#t48" x="22" y="294"/><use href="#t56" x="27" y="294"/><use href="#t48" x="32" y="294"/><use href="#t48" x="37" y="294"/><use href="#t48" x="42" y="294"/><use href="#t49" x="17" y="289"/><use href="#t48" x="22" y="289"/><use href="#t57" x="27" y="289"/><use href="#t48" x="32" y="289"/><use href="#t48" x="37" y="289"/><use href="#t48" x="42" y="289"/><use href="#t49" x="17" y="283"/><use href="#t49" x="22" y="283"/><use href="#t48" x="27" y="283"/><use href="#t48" x="32" y="283"/><use href="#t48" x="37" y="283"/><use href="#t48" x="42" y="283"/><use href="#t49" x="17" y="277"/><use href="#t49" x="22" y="277"/><use href="#t49" x="27" y="277"/><use href="#t48" x="32" y="277"/><use href="#t48" x="37" y="277"/><use href="#t48" x="42" y="277"/><use href="#t49" x="17" y="271"/><use href="#t49" x="22" y="271"/><use href="#t50" x="27" y="271"/><use href="#t48" x="32" y="271"/><use href="#t48" x="37" y="271"/><use href="#t48" x="42" y="271"/><use href="#t49" x="17" y="265"/><use href="#t49" x="22" y="265"/><use href="#t51" x="27" y="265"/><use href="#t48" x="32" y="265"/><use href="#t48" x="37" y="265"/><use href="#t48" x="42" y="265"/><use href="#t49" x="17" y="260"/><use href="#t49" x="22" y="260"/><use href="#t52" x="27" y="260"/><use href="#t48" x="32" y="260"/><use href="#t48" x="37" y="260"/><use href="#t48" x="42" y="260"/><use href="#t49" x="17" y="254"/><use href="#t49" x="22" y="254"/><use href="#t53" x="27" y="254"/><use href="#t48" x="32" y="254"/><use href="#t48" x="37" y="254"/><use href="#t48" x="42" y="254"/><use href="#t49" x="17" y="248"/><use href="#t49" x="22" y="248"/><use href="#t54" x="27" y="248"/><use href="#t48" x="32" y="248"/><use href="#t48" x="37" y="248"/><use href="#t48" x="42" y="248"/><use href="#t49" x="17" y="242"/><use href="#t49" x="22" y="242"/><use href="#t55" x="27" y="242"/><use href="#t48" x="32" y="242"/><use href="#t48" x="37" y="242"/><use href="#t48" x="42" y="242"/><use href="#t49" x="17" y="236"/><use href="#t49" x="22" y="236"/><use href="#t56" x="27" y="236"/><use href="#t48" x="32" y="236"/><use href="#t48" x="37" y="236"/><use href="#t48" x="42" y="236"/><use href="#t49" x="17" y="231"/><use href="#t49" x="22" y="231"/><use href="#t57" x="27" y="231"/><use href="#t48" x="32" y="231"/><use href="#t48" x="37" y="231"/><use href="#t48" x="42" y="231"/><use href="#t49" x="17" y="225"/><use href="#t50" x="22" y="225"/><use href="#t48" x="27" y="225"/><use href="#t48" x="32" y="225"/><use href="#t48" x="37" y="225"/><use href="#t48" x="42" y="225"/><use href="#t49" x="17" y="219"/><use href="#t50" x="22" y="219"/><use href="#t49" x="27" y="219"/><use href="#t48" x="32" y="219"/><use href="#t48" x="37" y="219"/><use href="#t48" x="42" y="219"/><use href="#t49" x="17" y="213"/><use href="#t50" x="22" y="213"/><use href="#t50" x="27" y="213"/><use href="#t48" x="32" y="213"/><use href="#t48" x="37" y="213"/><use href="#t48" x="42" y="213"/><use href="#t49" x="17" y="207"/><use href="#t50" x="22" y="207"/><use href="#t51" x="27" y="207"/><use href="#t48" x="32" y="207"/><use href="#t48" x="37" y="207"/><use href="#t48" x="42" y="207"/><use href="#t49" x="17" y="202"/><use href="#t50" x="22" y="202"/><use href="#t52" x="27" y="202"/><use href="#t48" x="32" y="202"/><use href="#t48" x="37" y="202"/><use href="#t48" x="42" y="202"/><use href="#t49" x="17" y="196"/><use href="#t50" x="22" y="196"/><use href="#t53" x="27" y="196"/><use href="#t48" x="32" y="196"/><use href="#t48" x="37" y="196"/><use href="#t48" x="42" y="196"/><use href="#t49" x="17" y="190"/><use href="#t50" x="22" y="190"/><use href="#t54" x="27" y="190"/><use href="#t48" x="32" y="190"/><use href="#t48" x="37" y="190"/><use href="#t48" x="42" y="190"/><use href="#t49" x="17" y="184"/><use href="#t50" x="22" y="184"/><use href="#t55" x="27" y="184"/><use href="#t48" x="32" y="184"/><use href="#t48" x="37" y="184"/><use href="#t48" x="42" y="184"/><use href="#t49" x="17" y="178"/><use href="#t50" x="22" y="178"/><use href="#t56" x="27" y="178"/><use href="#t48" x="32" y="178"/><use href="#t48" x="37" y="178"/><use href="#t48" x="42" y="178"/><use href="#t49" x="17" y="173"/><use href="#t50" x="22" y="173"/><use href="#t57" x="27" y="173"/><use href="#t48" x="32" y="173"/><use href="#t48" x="37" y="173"/><use href="#t48" x="42" y="173"/><use href="#t49" x="17" y="167"/><use href="#t51" x="22" y="167"/><use href="#t48" x="27" y="167"/><use href="#t48" x="32" y="167"/><use href="#t48" x="37" y="167"/><use href="#t48" x="42" y="167"/><use href="#t49" x="17" y="161"/><use href="#t51" x="22" y="161"/><use href="#t49" x="27" y="161"/><use href="#t48" x="32" y="161"/><use href="#t48" x="37" y="161"/><use href="#t48" x="42" y="161"/><use href="#t49" x="17" y="155"/><use href="#t51" x="22" y="155"/><use href="#t50" x="27" y="155"/><use href="#t48" x="32" y="155"/><use href="#t48" x="37" y="155"/><use href="#t48" x="42" y="155"/><use href="#t49" x="17" y="149"/><use href="#t51" x="22" y="149"/><use href="#t51" x="27" y="149"/><use href="#t48" x="32" y="149"/><use href="#t48" x="37" y="149"/><use href="#t48" x="42" y="149"/><use href="#t49" x="17" y="144"/><use href="#t51" x="22" y="144"/><use href="#t52" x="27" y="144"/><use href="#t48" x="32" y="144"/><use href="#t48" x="37" y="144"/><use href="#t48" x="42" y="144"/><use href="#t49" x="17" y="138"/><use href="#t51" x="22" y="138"/><use href="#t53" x="27" y="138"/><use href="#t48" x="32" y="138"/><use href="#t48" x="37" y="138"/><use href="#t48" x="42" y="138"/><use href="#t49" x="17" y="132"/><use href="#t51" x="22" y="132"/><use href="#t54" x="27" y="132"/><use href="#t48" x="32" y="132"/><use href="#t48" x="37" y="132"/><use href="#t48" x="42" y="132"/><use href="#t49" x="17" y="126"/><use href="#t51" x="22" y="126"/><use href="#t55" x="27" y="126"/><use href="#t48" x="32" y="126"/><use href="#t48" x="37" y="126"/><use href="#t48" x="42" y="126"/><use href="#t49" x="17" y="120"/><use href="#t51" x="22" y="120"/><use href="#t56" x="27" y="120"/><use href="#t48" x="32" y="120"/><use href="#t48" x="37" y="120"/><use href="#t48" x="42" y="120"/><use href="#t49" x="17" y="115"/><use href="#t51" x="22" y="115"/><use href="#t57" x="27" y="115"/><use href="#t48" x="32" y="115"/><use href="#t48" x="37" y="115"/><use href="#t48" x="42" y="115"/><use href="#t49" x="17" y="109"/><use href="#t52" x="22" y="109"/><use href="#t48" x="27" y="109"/><use href="#t48" x="32" y="109"/><use href="#t48" x="37" y="109"/><use href="#t48" x="42" y="109"/><use href="#t49" x="17" y="103"/><use href="#t52" x="22" y="103"/><use href="#t49" x="27" y="103"/><use href="#t48" x="32" y="103"/><use href="#t48" x="37" y="103"/><use href="#t48" x="42" y="103"/><use href="#t49" x="17" y="97"/><use href="#t52" x="22" y="97"/><use href="#t50" x="27" y="97"/><use href="#t48" x="32" y="97"/><use href="#t48" x="37" y="97"/><use href="#t48" x="42" y="97"/><use href="#t49" x="17" y="91"/><use href="#t52" x="22" y="91"/><use href="#t51" x="27" y="91"/><use href="#t48" x="32" y="91"/><use href="#t48" x="37" y="91"/><use href="#t48" x="42" y="91"/><use href="#t49" x="17" y="86"/><use href="#t52" x="22" y="86"/><use href="#t52" x="27" y="86"/><use href="#t48" x="32" y="86"/><use href="#t48" x="37" y="86"/><use href="#t48" x="42" y="86"/><use href="#t49" x="17" y="80"/><use href="#t52" x="22" y="80"/><use href="#t53" x="27" y="80"/><use href="#t48" x="32" y="80"/><use href="#t48" x="37" y="80"/><use href="#t48" x="42" y="80"/><use href="#t49" x="17" y="74"/><use href="#t52" x="22" y="74"/><use href="#t54" x="27" y="74"/><use href="#t48" x="32" y="74"/><use href="#t48" x="37" y="74"/><use href="#t48" x="42" y="74"/><use href="#t49" x="17" y="68"/><use href="#t52" x="22" y="68"/><use href="#t55" x="27" y="68"/><use href="#t48" x="32" y="68"/><use href="#t48" x="37" y="68"/><use href="#t48" x="42" y="68"/><use href="#t49" x="17" y="62"/><use href="#t52" x="22" y="62"/><use href="#t56" x="27" y="62"/><use href="#t48" x="32" y="62"/><use href="#t48" x="37" y="62"/><use href="#t48" x="42" y="62"/><use href="#t49" x="17" y="57"/><use href="#t52" x="22" y="57"/><use href="#t57" x="27" y="57"/><use href="#t48" x="32" y="57"/><use href="#t48" x="37" y="57"/><use href="#t48" x="42" y="57"/><use href="#t49" x="17" y="51"/><use href="#t53" x="22" y="51"/><use href="#t48" x="27" y="51"/><use href="#t48" x="32" y="51"/><use href="#t48" x="37" y="51"/><use href="#t48" x="42" y="51"/><use href="#t49" x="17" y="45"/><use href="#t53" x="22" y="45"/><use href="#t49" x="27" y="45"/><use href="#t48" x="32" y="45"/><use href="#t48" x="37" y="45"/><use href="#t48" x="42" y="45"/><use href="#t49" x="17" y="39"/><use href="#t53" x="22" y="39"/><use href="#t50" x="27" y="39"/><use href="#t48" x="32" y="39"/><use href="#t48" x="37" y="39"/><use href="#t48" x="42" y="39"/><use href="#t49" x="17" y="33"/><use href="#t53" x="22" y="33"/><use href="#t51" x="27" y="33"/><use href="#t48" x="32" y="33"/><use href="#t48" x="37" y="33"/><use href="#t48" x="42" y="33"/><use href="#t49" x="17" y="28"/><use href="#t53" x="22" y="28"/><use href="#t52" x="27" y="28"/><use href="#t48" x="32" y="28"/><use href="#t48" x="37" y="28"/><use href="#t48" x="42" y="28"/><use href="#t49" x="17" y="22"/><use href="#t53" x="22" y="22"/><use href="#t53" x="27" y="22"/><use href="#t48" x="32" y="22"/><use href="#t48" x="37" y="22"/><use href="#t48" x="42" y="22"/><use href="#t49" x="17" y="16"/><use href="#t53" x="22" y="16"/><use href="#t54" x="27" y="16"/><use href="#t48" x="32" y="16"/><use href="#t48" x="37" y="16"/><use href="#t48" x="42" y="16"/><use href="#t50" x="82" y="575"/><use href="#t48" x="87" y="575"/><use href="#t48" x="92" y="575"/><use href="#t52" x="97" y="575"/><use href="#t50" x="123" y="575"/><use href="#t48" x="128" y="575"/><use href="#t48" x="133" y="575"/><use href="#t53" x="138" y="575"/><use href="#t50" x="165" y="575"/><use href="#t48" x="170" y="575"/><use href="#t48" x="175" y="575"/><use href="#t54" x="180" y="575"/><use href="#t50" x="206" y="575"/><use href="#t48" x="211" y="575"/><use href="#t48" x="216" y="575"/><use href="#t55" x="221" y="575"/><use href="#t50" x="247" y="575"/><use href="#t48" x="252" y="575"/><use href="#t48" x="257" y="575"/><use href="#t56" x="262" y="575"/><use href="#t50" x="288" y="575"/><use href="#t48" x="293" y="575"/><use href="#t48" x="298" y="575"/><use href="#t57" x="303" y="575"/><use href="#t50" x="330" y="575"/><use href="#t48" x="335" y="575"/><use href="#t49" x="340" y="575"/><use href="#t48" x="345" y="575"/><use href="#t50" x="371" y="575"/><use href="#t48" x="376" y="575"/><use href="#t49" x="381" y="575"/><use href="#t49" x="386" y="575"/><use href="#t50" x="412" y="575"/><use href="#t48" x="417" y="575"/><use href="#t49" x="422" y="575"/><use href="#t50" x="427" y="575"/><use href="#t50" x="453" y="575"/><use href="#t48" x="458" y="575"/><use href="#t49" x="463" y="575"/><use href="#t51" x="468" y="575"/><use href="#t50" x="494" y="575"/><use href="#t48" x="499" y="575"/><use href="#t49" x="504" y="575"/><use href="#t52" x="509" y="575"/><use href="#t50" x="536" y="575"/><use href="#t48" x="541" y="575"/><use href="#t49" x="546" y="575"/><use href="#t53" x="551" y="575"/><use href="#t50" x="577" y="575"/><use href="#t48" x="582" y="575"/><use href="#t49" x="587" y="575"/><use href="#t54" x="592" y="575"/><use href="#t50" x="618" y="575"/><use href="#t48" x="623" y="575"/><use href="#t49" x="628" y="575"/><use href="#t55" x="633" y="575"/><use href="#t50" x="659" y="575"/><use href="#t48" x="664" y="575"/><use href="#t49" x="669" y="575"/><use href="#t56" x="674" y="575"/><use href="#t50" x="700" y="575"/><use href="#t48" x="705" y="575"/><use href="#t49" x="710" y="575"/><use href="#t57" x="715" y="575"/><use href="#t50" x="742" y="575"/><use href="#t48" x="747" y="575"/><use href="#t50" x="752" y="575"/><use href="#t48" x="757" y="575"/><use href="#t50" x="783" y="575"/><use href="#t48" x="788" y="575"/><use href="#t50" x="793" y="575"/><use href="#t49" x="798" y="575"/><use href="#t50" x="824" y="575"/><use href="#t48" x="829" y="575"/><use href="#t50" x="834" y="575"/><use href="#t50" x="839" y="575"/><use href="#t50" x="865" y="575"/><use href="#t48" x="870" y="575"/><use href="#t50" x="875" y="575"/><use href="#t51" x="880" y="575"/><use href="#t50" x="907" y="575"/><use href="#t48" x="912" y="575"/><use href="#t50" x="917" y="575"/><use href="#t52" x="922" y="575"/><use href="#t50" x="948" y="575"/><use href="#t48" x="953" y="575"/><use href="#t50" x="958" y="575"/><use href="#t53" x="963" y="575"/></g>
<g id="plots"><use href="#mk" x="92" y="524" fill="#ff0000"/><use href="#mk" x="92" y="523" fill="#00ff00"/><use href="#mk" x="92" y="540" fill="#0000ff"/><use href="#mk" x="92" y="567" fill="#808000"/><g fill="#000080"><use href="#t54" x="79" y="512"/><use href="#t57" x="84" y="512"/><use href="#t48" x="89" y="512"/><use href="#t56" x="94" y="512"/><use href="#t50" x="99" y="512"/></g><path fill="#ff0000" d="M96 523h38v1h-38z"/><g fill="#000080"><use href="#t54" x="79" y="511"/><use href="#t57" x="84" y="511"/><use href="#t51" x="89" y="511"/><use href="#t50" x="94" y="511"/><use href="#t54" x="99" y="511"/></g><path fill="#00ff00" d="M95 522h39v1h-39z"/><g fill="#000080"><use href="#t54" x="79" y="528"/><use href="#t54" x="84" y="528"/><use href="#t52" x="89" y="528"/><use href="#t48" x="94" y="528"/><use href="#t52" x="99" y="528"/></g><path fill="#0000ff" d="M95 539h39v1h-39z"/><g fill="#000080"><use href="#t54" x="79" y="555"/><use href="#t49" x="84" y="555"/><use href="#t55" x="89" y="555"/><use href="#t55" x="94" y="555"/><use href="#t50" x="99" y="555"/></g><path fill="#808000" d="M95 566h39v1h-39z"/>
<use href="#mk" x="133" y="524" fill="#ff0000"/><use href="#mk" x="133" y="523" fill="#00ff00"/><use href="#mk" x="133" y="540" fill="#0000ff"/><use href="#mk" x="133" y="567" fill="#808000"/><g fill="#000080"><use href="#t54" x="120" y="512"/><use href="#t57" x="125" y="512"/><use href="#t48" x="130" y="512"/><use href="#t56" x="135" y="512"/><use href="#t50" x="140" y="512"/></g><path fill="#ff0000" d="M137 524h3v1h-3zM140 525h4v1h-4zM144 526h4v1h-4zM148 527h4v1h-4zM152 528h5v1h-5zM157 529h4v1h-4zM161 530h4v1h-4zM165 531h4v1h-4zM169 532h4v1h-4zM173 533h3v1h-3z"/><g fill="#000080"><use href="#t54" x="120" y="511"/><use href="#t57" x="125" y="511"/><use href="#t51" x="130" y="511"/><use href="#t50" x="135" y="511"/><use href="#t54" x="140" y="511"/></g><path fill="#00ff00" d="M136 522h40v1h-40z"/><g fill="#000080"><use href="#t54" x="120" y="528"/><use href="#t54" x="125" y="528"/><use href="#t52" x="130" y="528"/><use href="#t48" x="135" y="528"/><use href="#t52" x="140" y="528"/></g><path fill="#0000ff" d="M136 539h40v1h-40z"/><g fill="#000080"><use href="#t54" x="120" y="555"/><use href="#t49" x="125" y="555"/><use href="#t55" x="130" y="555"/><use href="#t55" x="135" y="555"/><use href="#t50" x="140" y="555"/></g><path fill="#808000" d="M136 566h40v1h-40z"/>
<use href="#mk" x="175" y="534" fill="#ff0000"/><use href="#mk" x="175" y="523" fill="#00ff00"/><use href="#mk" x="175" y="540" fill="#0000ff"/><use href="#mk" x="175" y="567" fill="#808000"/><g fill="#000080"><use href="#t54" x="162" y="522"/><use href="#t55" x="167" y="522"/><use href="#t52" x="172" y="522"/><use href="#t48" x="177" y="522"/><use href="#t56" x="182" y="522"/></g><path fill="#ff0000" d="M178 533h39v1h-39z"/><g fill="#000080"><use href="#t54" x="162" y="511"/><use href="#t57" x="167" y="511"/><use href="#t51" x="172" y="511"/><use href="#t50" x="177" y="511"/><use href="#t54" x="182" y="511"/></g><path fill="#00ff00" d="M215 510h2v1h-2zM211 511h4v1h-4zM208 512h3v1h-3zM205 513h3v1h-3zM201 514h4v1h-4zM198 515h3v1h-3zM194 516h4v1h-4zM191 517h3v1h-3zM187 518h4v1h-4zM184 519h3v1h-3zM181 520h3v1h-3zM178 521h3v1h-3z"/><g fill="#000080"><use href="#t54" x="162" y="528"/><use href="#t54" x="167" y="528"/><use href="#t52" x="172" y="528"/><use href="#t48" x="177" y="528"/><use href="#t52" x="182" y="528"/></g><path fill="#0000ff" d="M178 539h39v1h-39z"/><g fill="#000080"><use href="#t54" x="162" y="555"/><use href="#t49" x="167" y="555"/><use href="#t55" x="172" y="555"/><use href="#t55" x="177" y="555"/><use href="#t50" x="182" y="555"/></g><path fill="#808000" d="M178 566h39v1h-39z"/>
<use href="#mk" x="216" y="534" fill="#ff0000"/><use href="#mk" x="216" y="511" fill="#00ff00"/><use href="#mk" x="216" y="540" fill="#0000ff"/><use href="#mk" x="216" y="567" fill="#808000"/><g fill="#000080"><use href="#t54" x="203" y="522"/><use href="#t55" x="208" y="522"/><use href="#t52" x="213" y="522"/><use href="#t48" x="218" y="522"/><use href="#t56" x="223" y="522"/></g><path fill="#ff0000" d="M256 517h2v1h-2zM254 518h2v1h-2zM251 519h3v1h-3zM249 520h2v1h-2zM246 521h3v1h-3zM243 522h3v1h-3zM241 523h2v1h-2zM238 524h3v1h-3zM236 525h2v1h-2zM233 526h3v1h-3zM231 527h2v1h-2zM228 528h3v1h-3zM225 529h3v1h-3zM223 530h2v1h-2zM220 531h3v1h-3zM219 532h1v1h-1z"/><g fill="#000080"><use href="#t55" x="203" y="499"/><use href="#t49" x="208" y="499"/><use href="#t52" x="213" y="499"/><use href="#t48" x="218" y="499"/><use href="#t54" x="223" y="499"/></g><path fill="#00ff00" d="M219 510h39v1h-39z"/><g fill="#000080"><use href="#t54" x="203" y="528"/><use href="#t54" x="208" y="528"/><use href="#t52" x="213" y="528"/><use href="#t48" x="218" y="528"/><use href="#t52" x="223" y="528"/></g><path fill="#0000ff" d="M247 537h11v1h-11zM227 538h20v1h-20zM219 539h8v1h-8z"/><g fill="#000080"><use href="#t54" x="203" y="555"/><use href="#t49" x="208" y="555"/><use href="#t55" x="213" y="555"/><use href="#t55" x="218" y="555"/><use href="#t50" x="223" y="555"/></g><path fill="#808000" d="M251 563h7v1h-7zM237 564h14v1h-14zM223 565h14v1h-14zM219 566h4v1h-4z"/>
<use href="#mk" x="257" y="518" fill="#ff0000"/><use href="#mk" x="257" y="511" fill="#00ff00"/><use href="#mk" x="257" y="538" fill="#0000ff"/><use href="#mk" x="257" y="564" fill="#808000"/><use href="#mk" x="257" y="550" fill="#ff00ff"/><use href="#mk" x="257" y="518" fill="#00ffff"/><g fill="#000080"><use href="#t55" x="244" y="506"/><use href="#t48" x="249" y="506"/><use href="#t49" x="254" y="506"/><use href="#t51" x="259" y="506"/><use href="#t50" x="264" y="506"/></g><path fill="#ff0000" d="M297 506h2v1h-2zM293 507h4v1h-4zM289 508h4v1h-4zM285 509h4v1h-4zM282 510h3v1h-3zM278 511h4v1h-4zM274 512h4v1h-4zM271 513h3v1h-3zM267 514h4v1h-4zM263 515h4v1h-4zM260 516h3v1h-3z"/><g fill="#000080"><use href="#t55" x="244" y="499"/><use href="#t49" x="249" y="499"/><use href="#t52" x="254" y="499"/><use href="#t48" x="259" y="499"/><use href="#t54" x="264" y="499"/></g><path fill="#00ff00" d="M297 494h2v1h-2zM295 495h2v1h-2zM292 496h3v1h-3zM290 497h2v1h-2zM287 498h3v1h-3zM284 499h3v1h-3zM282 500h2v1h-2zM279 501h3v1h-3zM277 502h2v1h-2zM274 503h3v1h-3zM272 504h2v1h-2zM269 505h3v1h-3zM266 506h3v1h-3zM264 507h2v1h-2zM261 508h3v1h-3zM260 509h1v1h-1z"/><g fill="#000080"><use href="#t54" x="244" y="526"/><use href="#t54" x="249" y="526"/><use href="#t55" x="254" y="526"/><use href="#t48" x="259" y="526"/><use href="#t52" x="264" y="526"/></g><path fill="#0000ff" d="M260 537h39v1h-39z"/><g fill="#000080"><use href="#t54" x="244" y="552"/><use href="#t50" x="249" y="552"/><use href="#t50" x="254" y="552"/><use href="#t52" x="259" y="552"/><use href="#t52" x="264" y="552"/></g><path fill="#808000" d="M297 551h2v1h-2zM293 552h4v1h-4zM290 553h3v1h-3zM287 554h3v1h-3zM283 555h4v1h-4zM280 556h3v1h-3zM276 557h4v1h-4zM273 558h3v1h-3zM269 559h4v1h-4zM266 560h3v1h-3zM263 561h3v1h-3zM260 562h3v1h-3z"/><g fill="#000080"><use href="#t55" x="244" y="506"/><use href="#t48" x="249" y="506"/><use href="#t48" x="254" y="506"/><use href="#t51" x="259" y="506"/><use href="#t50" x="264" y="506"/></g><path fill="#00ffff" d="M297 503h2v1h-2zM294 504h3v1h-3zM291 505h3v1h-3zM288 506h3v1h-3zM285 507h3v1h-3zM282 508h3v1h-3zM279 509h3v1h-3zM277 510h2v1h-2zM274 511h3v1h-3zM271 512h3v1h-3zM268 513h3v1h-3zM265 514h3v1h-3zM262 515h3v1h-3zM260 516h2v1h-2z"/><g fill="#000080"><use href="#t54" x="244" y="538"/><use href="#t52" x="249" y="538"/><use href="#t53" x="254" y="538"/><use href="#t54" x="259" y="538"/><use href="#t51" x="264" y="538"/></g><path fill="#ff00ff" d="M259 547v1h1v-1zM260 546v1h1v-1zM261 545v1h1v-1zM262 544v1h1v-1zM263 543v1h1v-1zM264 542v1h1v-1zM265 541v1h1v-1zM266 540v1h1v-1zM267 539v1h1v-1zM268 538v1h1v-1zM269 537v1h1v-1zM270 536v1h1v-1zM271 535v1h1v-1zM272 534v1h1v-1zM273 533v1h1v-1zM274 532v1h1v-1zM275 531v1h1v-1zM276 530v1h1v-1zM277 528v2h1v-2zM278 527v1h1v-1zM279 526v1h1v-1zM280 525v1h1v-1zM281 524v1h1v-1zM282 523v1h1v-1zM283 522v1h1v-1zM284 521v1h1v-1zM285 520v1h1v-1zM286 519v1h1v-1zM287 518v1h1v-1zM288 517v1h1v-1zM289 516v1h1v-1zM290 515v1h1v-1zM291 514v1h1v-1zM292 513v1h1v-1zM293 512v1h1v-1zM294 511v1h1v-1zM295 510v1h1v-1zM296 509v1h1v-1zM297 508v1h1v-1zM298 507v1h1v-1z"/>
<use href="#mk" x="298" y="507" fill="#ff0000"/><use href="#mk" x="298" y="495" fill="#00ff00"/><use href="#mk" x="298" y="538" fill="#0000ff"/><use href="#mk" x="298" y="552" fill="#808000"/><use href="#mk" x="298" y="508" fill="#ff00ff"/><use href="#mk" x="298" y="504" fill="#00ffff"/><g fill="#000080"><use href="#t55" x="285" y="495"/><use href="#t50" x="290" y="495"/><use href="#t48" x="295" y="495"/><use href="#t48" x="300" y="495"/><use href="#t48" x="305" y="495"/></g><path fill="#ff0000" d="M336 501h5v1h-5zM328 502h8v1h-8zM319 503h9v1h-9zM311 504h8v1h-8zM303 505h8v1h-8zM301 506h2v1h-2z"/><g fill="#000080"><use href="#t55" x="285" y="483"/><use href="#t52" x="290" y="483"/><use href="#t48" x="295" y="483"/><use href="#t55" x="300" y="483"/><use href="#t48" x="305" y="483"/></g><path fill="#00ff00" d="M336 489h5v1h-5zM328 490h8v1h-8zM319 491h9v1h-9zM311 492h8v1h-8zM303 493h8v1h-8zM301 494h2v1h-2z"/><g fill="#000080"><use href="#t54" x="285" y="526"/><use href="#t54" x="290" y="526"/><use href="#t55" x="295" y="526"/><use href="#t48" x="300" y="526"/><use href="#t52" x="305" y="526"/></g><path fill="#0000ff" d="M335 533h6v1h-6zM325 534h10v1h-10zM314 535h11v1h-11zM304 536h10v1h-10zM301 537h3v1h-3z"/><g fill="#000080"><use href="#t54" x="285" y="540"/><use href="#t52" x="290" y="540"/><use href="#t51" x="295" y="540"/><use href="#t50" x="300" y="540"/><use href="#t53" x="305" y="540"/></g><path fill="#808000" d="M340 519h1v1h-1zM339 520h1v1h-1zM337 521h2v1h-2zM336 522h1v1h-1zM335 523h1v1h-1zM333 524h2v1h-2zM332 525h1v1h-1zM331 526h1v1h-1zM329 527h2v1h-2zM328 528h1v1h-1zM327 529h1v1h-1zM325 530h2v1h-2zM324 531h1v1h-1zM323 532h1v1h-1zM321 533h2v1h-2zM320 534h1v1h-1zM319 535h1v1h-1zM318 536h1v1h-1zM316 537h2v1h-2zM315 538h1v1h-1zM314 539h1v1h-1zM312 540h2v1h-2zM311 541h1v1h-1zM310 542h1v1h-1zM308 543h2v1h-2zM307 544h1v1h-1zM306 545h1v1h-1zM304 546h2v1h-2zM303 547h1v1h-1zM302 548h1v1h-1zM300 549h2v1h-2z"/><g fill="#000080"><use href="#t55" x="285" y="492"/><use href="#t50" x="290" y="492"/><use href="#t53" x="295" y="492"/><use href="#t57" x="300" y="492"/><use href="#t54" x="305" y="492"/></g><path fill="#00ffff" d="M336 498h5v1h-5zM328 499h8v1h-8zM319 500h9v1h-9zM311 501h8v1h-8zM303 502h8v1h-8zM301 503h2v1h-2z"/><g fill="#000080"><use href="#t55" x="285" y="496"/><use href="#t49" x="290" y="496"/><use href="#t57" x="295" y="496"/><use href="#t48" x="300" y="496"/><use href="#t48" x="305" y="496"/></g><path fill="#ff00ff" d="M335 503h6v1h-6zM325 504h10v1h-10zM314 505h11v1h-11zM304 506h10v1h-10zM302 507h2v1h-2z"/>
<use href="#mk" x="340" y="502" fill="#ff0000"/><use href="#mk" x="340" y="490" fill="#00ff00"/><use href="#mk" x="340" y="534" fill="#0000ff"/><use href="#mk" x="340" y="520" fill="#808000"/><use href="#mk" x="340" y="504" fill="#ff00ff"/><use href="#mk" x="340" y="499" fill="#00ffff"/><g fill="#000080"><use href="#t55" x="327" y="490"/><use href="#t50" x="332" y="490"/><use href="#t57" x="337" y="490"/><use href="#t48" x="342" y="490"/><use href="#t56" x="347" y="490"/></g><path fill="#ff0000" d="M375 498h7v1h-7zM361 499h14v1h-14zM347 500h14v1h-14zM343 501h4v1h-4z"/><g fill="#000080"><use href="#t55" x="327" y="478"/><use href="#t52" x="332" y="478"/><use href="#t57" x="337" y="478"/><use href="#t53" x="342" y="478"/><use href="#t56" x="347" y="478"/></g><path fill="#00ff00" d="M361 488h21v1h-21zM343 489h18v1h-18z"/><g fill="#000080"><use href="#t54" x="327" y="522"/><use href="#t55" x="332" y="522"/><use href="#t51" x="337" y="522"/><use href="#t57" x="342" y="522"/><use href="#t49" x="347" y="522"/></g><path fill="#0000ff" d="M379 525h3v1h-3zM374 526h5v1h-5zM369 527h5v1h-5zM364 528h5v1h-5zM358 529h6v1h-6zM353 530h5v1h-5zM348 531h5v1h-5zM343 532h5v1h-5z"/><g fill="#000080"><use href="#t54" x="327" y="508"/><use href="#t57" x="332" y="508"/><use href="#t56" x="337" y="508"/><use href="#t50" x="342" y="508"/><use href="#t56" x="347" y="508"/></g><path fill="#808000" d="M378 513h4v1h-4zM371 514h7v1h-7zM364 515h7v1h-7zM358 516h6v1h-6zM351 517h7v1h-7zM344 518h7v1h-7zM343 519h1v1h-1z"/><g fill="#000080"><use href="#t55" x="327" y="487"/><use href="#t51" x="332" y="487"/><use href="#t52" x="337" y="487"/><use href="#t50" x="342" y="487"/><use href="#t51" x="347" y="487"/></g><path fill="#00ffff" d="M378 492h4v1h-4zM371 493h7v1h-7zM364 494h7v1h-7zM358 495h6v1h-6zM351 496h7v1h-7zM344 497h7v1h-7zM343 498h1v1h-1z"/><g fill="#000080"><use href="#t55" x="327" y="492"/><use href="#t50" x="332" y="492"/><use href="#t53" x="337" y="492"/><use href="#t53" x="342" y="492"/><use href="#t56" x="347" y="492"/></g><path fill="#ff00ff" d="M378 497h4v1h-4zM371 498h7v1h-7zM364 499h7v1h-7zM358 500h6v1h-6zM351 501h7v1h-7zM344 502h7v1h-7zM343 503h1v1h-1z"/>
<use href="#mk" x="381" y="499" fill="#ff0000"/><use href="#mk" x="381" y="489" fill="#00ff00"/><use href="#mk" x="381" y="526" fill="#0000ff"/><use href="#mk" x="381" y="514" fill="#808000"/><use href="#mk" x="381" y="498" fill="#ff00ff"/><use href="#mk" x="381" y="493" fill="#00ffff"/><g fill="#000080"><use href="#t55" x="368" y="487"/><use href="#t51" x="373" y="487"/><use href="#t52" x="378" y="487"/><use href="#t50" x="383" y="487"/><use href="#t52" x="388" y="487"/></g><path fill="#ff0000" d="M422 472h1v1h-1zM420 473h2v1h-2zM419 474h1v1h-1zM417 475h2v1h-2zM415 476h2v1h-2zM414 477h1v1h-1zM412 478h2v1h-2zM411 479h1v1h-1zM409 480h2v1h-2zM408 481h1v1h-1zM406 482h2v1h-2zM404 483h2v1h-2zM403 484h1v1h-1zM401 485h2v1h-2zM400 486h1v1h-1zM398 487h2v1h-2zM396 488h2v1h-2zM395 489h1v1h-1zM393 490h2v1h-2zM392 491h1v1h-1zM390 492h2v1h-2zM389 493h1v1h-1zM387 494h2v1h-2zM385 495h2v1h-2zM384 496h1v1h-1z"/><g fill="#000080"><use href="#t55" x="368" y="477"/><use href="#t53" x="373" y="477"/><use href="#t49" x="378" y="477"/><use href="#t49" x="383" y="477"/><use href="#t50" x="388" y="477"/></g><path fill="#00ff00" d="M420 479h3v1h-3zM416 480h4v1h-4zM411 481h5v1h-5zM407 482h4v1h-4zM402 483h5v1h-5zM397 484h5v1h-5zM393 485h4v1h-4zM388 486h5v1h-5zM384 487h4v1h-4z"/><g fill="#000080"><use href="#t54" x="368" y="514"/><use href="#t56" x="373" y="514"/><use href="#t55" x="378" y="514"/><use href="#t50" x="383" y="514"/><use href="#t56" x="388" y="514"/></g><path fill="#0000ff" d="M420 517h3v1h-3zM415 518h5v1h-5zM410 519h5v1h-5zM405 520h5v1h-5zM399 521h6v1h-6zM394 522h5v1h-5zM389 523h5v1h-5zM384 524h5v1h-5z"/><g fill="#000080"><use href="#t55" x="368" y="502"/><use href="#t48" x="373" y="502"/><use href="#t56" x="378" y="502"/><use href="#t55" x="383" y="502"/><use href="#t54" x="388" y="502"/></g><path fill="#808000" d="M420 504h3v1h-3zM416 505h4v1h-4zM411 506h5v1h-5zM407 507h4v1h-4zM402 508h5v1h-5zM397 509h5v1h-5zM393 510h4v1h-4zM388 511h5v1h-5zM384 512h4v1h-4z"/><g fill="#000080"><use href="#t55" x="368" y="481"/><use href="#t52" x="373" y="481"/><use href="#t52" x="378" y="481"/><use href="#t48" x="383" y="481"/><use href="#t52" x="388" y="481"/></g><path fill="#00ffff" d="M420 483h3v1h-3zM416 484h4v1h-4zM411 485h5v1h-5zM407 486h4v1h-4zM402 487h5v1h-5zM397 488h5v1h-5zM393 489h4v1h-4zM388 490h5v1h-5zM384 491h4v1h-4z"/><g fill="#000080"><use href="#t55" x="368" y="486"/><use href="#t51" x="373" y="486"/><use href="#t54" x="378" y="486"/><use href="#t50" x="383" y="486"/><use href="#t49" x="388" y="486"/></g><path fill="#ff00ff" d="M421 486h2v1h-2zM417 487h4v1h-4zM413 488h4v1h-4zM409 489h4v1h-4zM406 490h3v1h-3zM402 491h4v1h-4zM398 492h4v1h-4zM395 493h3v1h-3zM391 494h4v1h-4zM387 495h4v1h-4zM384 496h3v1h-3z"/>
<use href="#mk" x="422" y="473" fill="#ff0000"/><use href="#mk" x="422" y="480" fill="#00ff00"/><use href="#mk" x="422" y="518" fill="#0000ff"/><use href="#mk" x="422" y="505" fill="#808000"/><use href="#mk" x="422" y="487" fill="#ff00ff"/><use href="#mk" x="422" y="484" fill="#00ffff"/><g fill="#000080"><use href="#t55" x="409" y="461"/><use href="#t55" x="414" y="461"/><use href="#t57" x="419" y="461"/><use href="#t49" x="424" y="461"/><use href="#t55" x="429" y="461"/></g><path fill="#ff0000" d="M462 461h2v1h-2zM458 462h4v1h-4zM454 463h4v1h-4zM450 464h4v1h-4zM447 465h3v1h-3zM443 466h4v1h-4zM439 467h4v1h-4zM436 468h3v1h-3zM432 469h4v1h-4zM428 470h4v1h-4zM425 471h3v1h-3z"/><g fill="#000080"><use href="#t55" x="409" y="468"/><use href="#t54" x="414" y="468"/><use href="#t55" x="419" y="468"/><use href="#t53" x="424" y="468"/><use href="#t49" x="429" y="468"/></g><path fill="#00ff00" d="M462 460h2v1h-2zM460 461h2v1h-2zM458 462h2v1h-2zM456 463h2v1h-2zM454 464h2v1h-2zM452 465h2v1h-2zM449 466h3v1h-3zM447 467h2v1h-2zM445 468h2v1h-2zM443 469h2v1h-2zM441 470h2v1h-2zM439 471h2v1h-2zM437 472h2v1h-2zM434 473h3v1h-3zM432 474h2v1h-2zM430 475h2v1h-2zM428 476h2v1h-2zM426 477h2v1h-2zM425 478h1v1h-1z"/><g fill="#000080"><use href="#t55" x="409" y="506"/><use href="#t48" x="414" y="506"/><use href="#t48" x="419" y="506"/><use href="#t56" x="424" y="506"/><use href="#t57" x="429" y="506"/></g><path fill="#0000ff" d="M461 509h3v1h-3zM456 510h5v1h-5zM451 511h5v1h-5zM446 512h5v1h-5zM440 513h6v1h-6zM435 514h5v1h-5zM430 515h5v1h-5zM425 516h5v1h-5z"/><g fill="#000080"><use href="#t55" x="409" y="493"/><use href="#t50" x="414" y="493"/><use href="#t52" x="419" y="493"/><use href="#t50" x="424" y="493"/><use href="#t55" x="429" y="493"/></g><path fill="#808000" d="M462 492h2v1h-2zM458 493h4v1h-4zM455 494h3v1h-3zM452 495h3v1h-3zM448 496h4v1h-4zM445 497h3v1h-3zM441 498h4v1h-4zM438 499h3v1h-3zM434 500h4v1h-4zM431 501h3v1h-3zM428 502h3v1h-3zM425 503h3v1h-3z"/><g fill="#000080"><use href="#t55" x="409" y="472"/><use href="#t53" x="414" y="472"/><use href="#t57" x="419" y="472"/><use href="#t51" x="424" y="472"/><use href="#t55" x="429" y="472"/></g><path fill="#00ffff" d="M461 473h3v1h-3zM457 474h4v1h-4zM453 475h4v1h-4zM449 476h4v1h-4zM445 477h4v1h-4zM441 478h4v1h-4zM437 479h4v1h-4zM433 480h4v1h-4zM429 481h4v1h-4zM425 482h4v1h-4z"/><g fill="#000080"><use href="#t55" x="409" y="475"/><use href="#t53" x="414" y="475"/><use href="#t52" x="419" y="475"/><use href="#t51" x="424" y="475"/><use href="#t55" x="429" y="475"/></g><path fill="#ff00ff" d="M461 476h3v1h-3zM457 477h4v1h-4zM453 478h4v1h-4zM449 479h4v1h-4zM445 480h4v1h-4zM441 481h4v1h-4zM437 482h4v1h-4zM433 483h4v1h-4zM429 484h4v1h-4zM425 485h4v1h-4z"/>
<use href="#mk" x="463" y="462" fill="#ff0000"/><use href="#mk" x="463" y="461" fill="#00ff00"/><use href="#mk" x="463" y="510" fill="#0000ff"/><use href="#mk" x="463" y="493" fill="#808000"/><use href="#mk" x="463" y="477" fill="#ff00ff"/><use href="#mk" x="463" y="474" fill="#00ffff"/><g fill="#000080"><use href="#t55" x="450" y="450"/><use href="#t57" x="455" y="450"/><use href="#t57" x="460" y="450"/><use href="#t48" x="465" y="450"/><use href="#t56" x="470" y="450"/></g><path fill="#ff0000" d="M503 448h2v1h-2zM500 449h3v1h-3zM497 450h3v1h-3zM493 451h4v1h-4zM490 452h3v1h-3zM487 453h3v1h-3zM484 454h3v1h-3zM481 455h3v1h-3zM478 456h3v1h-3zM475 457h3v1h-3zM471 458h4v1h-4zM468 459h3v1h-3zM466 460h2v1h-2z"/><g fill="#000080"><use href="#t55" x="450" y="449"/><use href="#t57" x="455" y="449"/><use href="#t57" x="460" y="449"/><use href="#t54" x="465" y="449"/><use href="#t56" x="470" y="449"/></g><path fill="#00ff00" d="M503 446h2v1h-2zM500 447h3v1h-3zM497 448h3v1h-3zM494 449h3v1h-3zM491 450h3v1h-3zM488 451h3v1h-3zM485 452h3v1h-3zM483 453h2v1h-2zM480 454h3v1h-3zM477 455h3v1h-3zM474 456h3v1h-3zM471 457h3v1h-3zM468 458h3v1h-3zM466 459h2v1h-2z"/><g fill="#000080"><use href="#t55" x="450" y="498"/><use href="#t49" x="455" y="498"/><use href="#t52" x="460" y="498"/><use href="#t55" x="465" y="498"/><use href="#t56" x="470" y="498"/></g><path fill="#0000ff" d="M503 497h2v1h-2zM499 498h4v1h-4zM496 499h3v1h-3zM493 500h3v1h-3zM489 501h4v1h-4zM486 502h3v1h-3zM482 503h4v1h-4zM479 504h3v1h-3zM475 505h4v1h-4zM472 506h3v1h-3zM469 507h3v1h-3zM466 508h3v1h-3z"/><g fill="#000080"><use href="#t55" x="450" y="481"/><use href="#t52" x="455" y="481"/><use href="#t52" x="460" y="481"/><use href="#t53" x="465" y="481"/><use href="#t51" x="470" y="481"/></g><path fill="#808000" d="M502 484h3v1h-3zM497 485h5v1h-5zM492 486h5v1h-5zM487 487h5v1h-5zM481 488h6v1h-6zM476 489h5v1h-5zM471 490h5v1h-5zM466 491h5v1h-5z"/><g fill="#000080"><use href="#t55" x="450" y="462"/><use href="#t55" x="455" y="462"/><use href="#t55" x="460" y="462"/><use href="#t57" x="465" y="462"/><use href="#t53" x="470" y="462"/></g><path fill="#00ffff" d="M503 461h2v1h-2zM499 462h4v1h-4zM496 463h3v1h-3zM493 464h3v1h-3zM489 465h4v1h-4zM486 466h3v1h-3zM482 467h4v1h-4zM479 468h3v1h-3zM475 469h4v1h-4zM472 470h3v1h-3zM469 471h3v1h-3zM466 472h3v1h-3z"/><g fill="#000080"><use href="#t55" x="450" y="465"/><use href="#t55" x="455" y="465"/><use href="#t49" x="460" y="465"/><use href="#t57" x="465" y="465"/><use href="#t53" x="470" y="465"/></g><path fill="#ff00ff" d="M502 467h3v1h-3zM498 468h4v1h-4zM493 469h5v1h-5zM489 470h4v1h-4zM484 471h5v1h-5zM479 472h5v1h-5zM475 473h4v1h-4zM470 474h5v1h-5zM466 475h4v1h-4z"/>
<use href="#mk" x="504" y="449" fill="#ff0000"/><use href="#mk" x="504" y="447" fill="#00ff00"/><use href="#mk" x="504" y="498" fill="#0000ff"/><use href="#mk" x="504" y="485" fill="#808000"/><use href="#mk" x="504" y="468" fill="#ff00ff"/><use href="#mk" x="504" y="462" fill="#00ffff"/><g fill="#000080"><use href="#t56" x="491" y="437"/><use href="#t50" x="496" y="437"/><use href="#t48" x="501" y="437"/><use href="#t51" x="506" y="437"/><use href="#t50" x="511" y="437"/></g><path fill="#ff0000" d="M544 438h3v1h-3zM540 439h4v1h-4zM536 440h4v1h-4zM532 441h4v1h-4zM528 442h4v1h-4zM523 443h5v1h-5zM519 444h4v1h-4zM515 445h4v1h-4zM511 446h4v1h-4zM508 447h3v1h-3z"/><g fill="#000080"><use href="#t56" x="491" y="435"/><use href="#t50" x="496" y="435"/><use href="#t51" x="501" y="435"/><use href="#t52" x="506" y="435"/><use href="#t53" x="511" y="435"/></g><path fill="#00ff00" d="M544 436h3v1h-3zM540 437h4v1h-4zM536 438h4v1h-4zM532 439h4v1h-4zM528 440h4v1h-4zM523 441h5v1h-5zM519 442h4v1h-4zM515 443h4v1h-4zM511 444h4v1h-4zM507 445h4v1h-4z"/><g fill="#000080"><use href="#t55" x="491" y="486"/><use href="#t51" x="496" y="486"/><use href="#t54" x="501" y="486"/><use href="#t48" x="506" y="486"/><use href="#t51" x="511" y="486"/></g><path fill="#0000ff" d="M545 484h2v1h-2zM542 485h3v1h-3zM538 486h4v1h-4zM535 487h3v1h-3zM532 488h3v1h-3zM529 489h3v1h-3zM525 490h4v1h-4zM522 491h3v1h-3zM519 492h3v1h-3zM516 493h3v1h-3zM513 494h3v1h-3zM509 495h4v1h-4zM507 496h2v1h-2z"/><g fill="#000080"><use href="#t55" x="491" y="473"/><use href="#t53" x="496" y="473"/><use href="#t55" x="501" y="473"/><use href="#t57" x="506" y="473"/><use href="#t51" x="511" y="473"/></g><path fill="#808000" d="M545 472h2v1h-2zM541 473h4v1h-4zM538 474h3v1h-3zM534 475h4v1h-4zM531 476h3v1h-3zM527 477h4v1h-4zM524 478h3v1h-3zM520 479h4v1h-4zM517 480h3v1h-3zM513 481h4v1h-4zM510 482h3v1h-3zM507 483h3v1h-3z"/><g fill="#000080"><use href="#t55" x="491" y="450"/><use href="#t57" x="496" y="450"/><use href="#t56" x="501" y="450"/><use href="#t48" x="506" y="450"/><use href="#t55" x="511" y="450"/></g><path fill="#00ffff" d="M544 452h3v1h-3zM539 453h5v1h-5zM535 454h4v1h-4zM530 455h5v1h-5zM525 456h5v1h-5zM521 457h4v1h-4zM516 458h5v1h-5zM511 459h5v1h-5zM507 460h4v1h-4z"/><g fill="#000080"><use href="#t55" x="491" y="456"/><use href="#t56" x="496" y="456"/><use href="#t54" x="501" y="456"/><use href="#t55" x="506" y="456"/><use href="#t57" x="511" y="456"/></g><path fill="#ff00ff" d="M544 459h3v1h-3zM539 460h5v1h-5zM533 461h6v1h-6zM528 462h5v1h-5zM523 463h5v1h-5zM518 464h5v1h-5zM512 465h6v1h-6zM507 466h5v1h-5z"/>
<use href="#mk" x="546" y="439" fill="#ff0000"/><use href="#mk" x="546" y="437" fill="#00ff00"/><use href="#mk" x="546" y="485" fill="#0000ff"/><use href="#mk" x="546" y="473" fill="#808000"/><use href="#mk" x="546" y="460" fill="#ff00ff"/><use href="#mk" x="546" y="453" fill="#00ffff"/><g fill="#000080"><use href="#t56" x="533" y="427"/><use href="#t51" x="538" y="427"/><use href="#t56" x="543" y="427"/><use href="#t51" x="548" y="427"/><use href="#t55" x="553" y="427"/></g><path fill="#ff0000" d="M586 427h2v1h-2zM582 428h4v1h-4zM578 429h4v1h-4zM574 430h4v1h-4zM571 431h3v1h-3zM567 432h4v1h-4zM563 433h4v1h-4zM560 434h3v1h-3zM556 435h4v1h-4zM552 436h4v1h-4zM550 437h2v1h-2z"/><g fill="#000080"><use href="#t56" x="533" y="425"/><use href="#t52" x="538" y="425"/><use href="#t49" x="543" y="425"/><use href="#t52" x="548" y="425"/><use href="#t57" x="553" y="425"/></g><path fill="#00ff00" d="M586 425h2v1h-2zM582 426h4v1h-4zM578 427h4v1h-4zM574 428h4v1h-4zM571 429h3v1h-3zM567 430h4v1h-4zM563 431h4v1h-4zM560 432h3v1h-3zM556 433h4v1h-4zM552 434h4v1h-4zM549 435h3v1h-3z"/><g fill="#000080"><use href="#t55" x="533" y="473"/><use href="#t53" x="538" y="473"/><use href="#t55" x="543" y="473"/><use href="#t57" x="548" y="473"/><use href="#t50" x="553" y="473"/></g><path fill="#0000ff" d="M586 472h2v1h-2zM582 473h4v1h-4zM579 474h3v1h-3zM576 475h3v1h-3zM572 476h4v1h-4zM569 477h3v1h-3zM565 478h4v1h-4zM562 479h3v1h-3zM558 480h4v1h-4zM555 481h3v1h-3zM552 482h3v1h-3zM549 483h3v1h-3z"/><g fill="#000080"><use href="#t55" x="533" y="461"/><use href="#t55" x="538" y="461"/><use href="#t57" x="543" y="461"/><use href="#t54" x="548" y="461"/><use href="#t56" x="553" y="461"/></g><path fill="#808000" d="M585 462h3v1h-3zM581 463h4v1h-4zM577 464h4v1h-4zM573 465h4v1h-4zM569 466h4v1h-4zM565 467h4v1h-4zM561 468h4v1h-4zM557 469h4v1h-4zM553 470h4v1h-4zM549 471h4v1h-4z"/><g fill="#000080"><use href="#t56" x="533" y="441"/><use href="#t49" x="538" y="441"/><use href="#t50" x="543" y="441"/><use href="#t55" x="548" y="441"/><use href="#t56" x="553" y="441"/></g><path fill="#00ffff" d="M585 443h3v1h-3zM581 444h4v1h-4zM576 445h5v1h-5zM572 446h4v1h-4zM567 447h5v1h-5zM562 448h5v1h-5zM558 449h4v1h-4zM553 450h5v1h-5zM549 451h4v1h-4z"/><g fill="#000080"><use href="#t56" x="533" y="448"/><use href="#t48" x="538" y="448"/><use href="#t50" x="543" y="448"/><use href="#t49" x="548" y="448"/><use href="#t51" x="553" y="448"/></g><path fill="#ff00ff" d="M585 449h3v1h-3zM581 450h4v1h-4zM577 451h4v1h-4zM573 452h4v1h-4zM569 453h4v1h-4zM565 454h4v1h-4zM561 455h4v1h-4zM557 456h4v1h-4zM553 457h4v1h-4zM549 458h4v1h-4z"/>
<use href="#mk" x="587" y="428" fill="#ff0000"/><use href="#mk" x="587" y="426" fill="#00ff00"/><use href="#mk" x="587" y="473" fill="#0000ff"/><use href="#mk" x="587" y="463" fill="#808000"/><use href="#mk" x="587" y="450" fill="#ff00ff"/><use href="#mk" x="587" y="444" fill="#00ffff"/><g fill="#000080"><use href="#t56" x="574" y="416"/><use href="#t53" x="579" y="416"/><use href="#t54" x="584" y="416"/><use href="#t54" x="589" y="416"/><use href="#t49" x="594" y="416"/></g><path fill="#ff0000" d="M627 415h2v1h-2zM623 416h4v1h-4zM620 417h3v1h-3zM617 418h3v1h-3zM613 419h4v1h-4zM610 420h3v1h-3zM606 421h4v1h-4zM603 422h3v1h-3zM599 423h4v1h-4zM596 424h3v1h-3zM593 425h3v1h-3zM591 426h2v1h-2z"/><g fill="#000080"><use href="#t56" x="574" y="414"/><use href="#t53" x="579" y="414"/><use href="#t57" x="584" y="414"/><use href="#t54" x="589" y="414"/><use href="#t57" x="594" y="414"/></g><path fill="#00ff00" d="M626 415h3v1h-3zM622 416h4v1h-4zM618 417h4v1h-4zM614 418h4v1h-4zM610 419h4v1h-4zM606 420h4v1h-4zM602 421h4v1h-4zM598 422h4v1h-4zM594 423h4v1h-4zM590 424h4v1h-4z"/><g fill="#000080"><use href="#t55" x="574" y="461"/><use href="#t55" x="579" y="461"/><use href="#t56" x="584" y="461"/><use href="#t57" x="589" y="461"/><use href="#t55" x="594" y="461"/></g><path fill="#0000ff" d="M627 459h2v1h-2zM624 460h3v1h-3zM621 461h3v1h-3zM617 462h4v1h-4zM614 463h3v1h-3zM611 464h3v1h-3zM608 465h3v1h-3zM605 466h3v1h-3zM602 467h3v1h-3zM599 468h3v1h-3zM595 469h4v1h-4zM592 470h3v1h-3zM590 471h2v1h-2z"/><g fill="#000080"><use href="#t55" x="574" y="451"/><use href="#t57" x="579" y="451"/><use href="#t54" x="584" y="451"/><use href="#t48" x="589" y="451"/><use href="#t54" x="594" y="451"/></g><path fill="#808000" d="M627 451h2v1h-2zM623 452h4v1h-4zM619 453h4v1h-4zM615 454h4v1h-4zM612 455h3v1h-3zM608 456h4v1h-4zM604 457h4v1h-4zM601 458h3v1h-3zM597 459h4v1h-4zM593 460h4v1h-4zM590 461h3v1h-3z"/><g fill="#000080"><use href="#t56" x="574" y="432"/><use href="#t50" x="579" y="432"/><use href="#t57" x="584" y="432"/><use href="#t51" x="589" y="432"/><use href="#t52" x="594" y="432"/></g><path fill="#00ffff" d="M626 434h3v1h-3zM622 435h4v1h-4zM617 436h5v1h-5zM613 437h4v1h-4zM608 438h5v1h-5zM603 439h5v1h-5zM599 440h4v1h-4zM594 441h5v1h-5zM590 442h4v1h-4z"/><g fill="#000080"><use href="#t56" x="574" y="438"/><use href="#t49" x="579" y="438"/><use href="#t55" x="584" y="438"/><use href="#t55" x="589" y="438"/><use href="#t54" x="594" y="438"/></g><path fill="#ff00ff" d="M626 441h3v1h-3zM621 442h5v1h-5zM616 443h5v1h-5zM611 444h5v1h-5zM605 445h6v1h-6zM600 446h5v1h-5zM595 447h5v1h-5zM590 448h5v1h-5z"/>
<use href="#mk" x="628" y="416" fill="#ff0000"/><use href="#mk" x="628" y="416" fill="#00ff00"/><use href="#mk" x="628" y="460" fill="#0000ff"/><use href="#mk" x="628" y="452" fill="#808000"/><use href="#mk" x="628" y="442" fill="#ff00ff"/><use href="#mk" x="628" y="435" fill="#00ffff"/><g fill="#000080"><use href="#t56" x="615" y="404"/><use href="#t55" x="620" y="404"/><use href="#t54" x="625" y="404"/><use href="#t48" x="630" y="404"/><use href="#t53" x="635" y="404"/></g><path fill="#ff0000" d="M629 410v4h1v-4zM630 406v4h1v-4zM631 403v3h1v-3zM632 399v4h1v-4zM633 396v3h1v-3zM634 392v4h1v-4zM635 388v4h1v-4zM636 385v3h1v-3zM637 381v4h1v-4zM638 378v3h1v-3zM639 374v4h1v-4zM640 370v4h1v-4zM641 367v3h1v-3zM642 363v4h1v-4zM643 360v3h1v-3zM644 356v4h1v-4zM645 352v4h1v-4zM646 349v3h1v-3zM647 345v4h1v-4zM648 341v4h1v-4zM649 338v3h1v-3zM650 334v4h1v-4zM651 331v3h1v-3zM652 327v4h1v-4zM653 323v4h1v-4zM654 320v3h1v-3zM655 316v4h1v-4zM656 313v3h1v-3zM657 309v4h1v-4zM658 305v4h1v-4zM659 302v3h1v-3zM660 298v4h1v-4zM661 295v3h1v-3zM662 291v4h1v-4zM663 287v4h1v-4zM664 284v3h1v-3zM665 280v4h1v-4zM666 277v3h1v-3zM667 273v4h1v-4zM668 269v4h1v-4zM669 267v2h1v-2z"/><g fill="#000080"><use href="#t56" x="615" y="404"/><use href="#t55" x="620" y="404"/><use href="#t54" x="625" y="404"/><use href="#t56" x="630" y="404"/><use href="#t54" x="635" y="404"/></g><path fill="#00ff00" d="M668 403h2v1h-2zM664 404h4v1h-4zM661 405h3v1h-3zM658 406h3v1h-3zM654 407h4v1h-4zM651 408h3v1h-3zM647 409h4v1h-4zM644 410h3v1h-3zM640 411h4v1h-4zM637 412h3v1h-3zM634 413h3v1h-3zM631 414h3v1h-3z"/><g fill="#000080"><use href="#t56" x="615" y="448"/><use href="#t48" x="620" y="448"/><use href="#t48" x="625" y="448"/><use href="#t54" x="630" y="448"/><use href="#t53" x="635" y="448"/></g><path fill="#0000ff" d="M668 444h2v1h-2zM665 445h3v1h-3zM663 446h2v1h-2zM660 447h3v1h-3zM657 448h3v1h-3zM654 449h3v1h-3zM652 450h2v1h-2zM649 451h3v1h-3zM646 452h3v1h-3zM644 453h2v1h-2zM641 454h3v1h-3zM638 455h3v1h-3zM635 456h3v1h-3zM633 457h2v1h-2zM631 458h2v1h-2z"/><g fill="#000080"><use href="#t56" x="615" y="440"/><use href="#t49" x="620" y="440"/><use href="#t53" x="625" y="440"/><use href="#t53" x="630" y="440"/><use href="#t54" x="635" y="440"/></g><path fill="#808000" d="M668 437h2v1h-2zM665 438h3v1h-3zM662 439h3v1h-3zM659 440h3v1h-3zM656 441h3v1h-3zM653 442h3v1h-3zM650 443h3v1h-3zM648 444h2v1h-2zM645 445h3v1h-3zM642 446h3v1h-3zM639 447h3v1h-3zM636 448h3v1h-3zM633 449h3v1h-3zM631 450h2v1h-2z"/><g fill="#000080"><use href="#t56" x="615" y="423"/><use href="#t52" x="620" y="423"/><use href="#t51" x="625" y="423"/><use href="#t56" x="630" y="423"/><use href="#t52" x="635" y="423"/></g><path fill="#00ffff" d="M668 423h2v1h-2zM664 424h4v1h-4zM660 425h4v1h-4zM656 426h4v1h-4zM653 427h3v1h-3zM649 428h4v1h-4zM645 429h4v1h-4zM642 430h3v1h-3zM638 431h4v1h-4zM634 432h4v1h-4zM631 433h3v1h-3z"/><g fill="#000080"><use href="#t56" x="615" y="430"/><use href="#t51" x="620" y="430"/><use href="#t49" x="625" y="430"/><use href="#t55" x="630" y="430"/><use href="#t52" x="635" y="430"/></g><path fill="#ff00ff" d="M667 431h3v1h-3zM663 432h4v1h-4zM659 433h4v1h-4zM655 434h4v1h-4zM651 435h4v1h-4zM647 436h4v1h-4zM643 437h4v1h-4zM639 438h4v1h-4zM635 439h4v1h-4zM631 440h4v1h-4z"/>
<use href="#mk" x="669" y="268" fill="#ff0000"/><use href="#mk" x="669" y="404" fill="#00ff00"/><use href="#mk" x="669" y="445" fill="#0000ff"/><use href="#mk" x="669" y="438" fill="#808000"/><use href="#mk" x="669" y="432" fill="#ff00ff"/><use href="#mk" x="669" y="424" fill="#00ffff"/><g fill="#000080"><use href="#t49" x="654" y="256"/><use href="#t49" x="659" y="256"/><use href="#t51" x="664" y="256"/><use href="#t51" x="669" y="256"/><use href="#t48" x="674" y="256"/><use href="#t51" x="679" y="256"/></g><path fill="#ff0000" d="M710 246h1v1h-1zM708 247h2v1h-2zM706 248h2v1h-2zM704 249h2v1h-2zM702 250h2v1h-2zM700 251h2v1h-2zM698 252h2v1h-2zM696 253h2v1h-2zM694 254h2v1h-2zM692 255h2v1h-2zM690 256h2v1h-2zM688 257h2v1h-2zM686 258h2v1h-2zM684 259h2v1h-2zM682 260h2v1h-2zM680 261h2v1h-2zM678 262h2v1h-2zM676 263h2v1h-2zM674 264h2v1h-2zM672 265h2v1h-2z"/><g fill="#000080"><use href="#t56" x="656" y="392"/><use href="#t57" x="661" y="392"/><use href="#t55" x="666" y="392"/><use href="#t52" x="671" y="392"/><use href="#t51" x="676" y="392"/></g><path fill="#00ff00" d="M670 398v4h1v-4zM671 394v4h1v-4zM672 390v4h1v-4zM673 387v3h1v-3zM674 383v4h1v-4zM675 379v4h1v-4zM676 375v4h1v-4zM677 372v3h1v-3zM678 368v4h1v-4zM679 364v4h1v-4zM680 360v4h1v-4zM681 357v3h1v-3zM682 353v4h1v-4zM683 349v4h1v-4zM684 345v4h1v-4zM685 342v3h1v-3zM686 338v4h1v-4zM687 334v4h1v-4zM688 330v4h1v-4zM689 326v4h1v-4zM690 323v3h1v-3zM691 319v4h1v-4zM692 315v4h1v-4zM693 311v4h1v-4zM694 308v3h1v-3zM695 304v4h1v-4zM696 300v4h1v-4zM697 296v4h1v-4zM698 293v3h1v-3zM699 289v4h1v-4zM700 285v4h1v-4zM701 281v4h1v-4zM702 278v3h1v-3zM703 274v4h1v-4zM704 270v4h1v-4zM705 266v4h1v-4zM706 263v3h1v-3zM707 259v4h1v-4zM708 255v4h1v-4zM709 251v4h1v-4zM710 249v2h1v-2z"/><g fill="#000080"><use href="#t56" x="656" y="433"/><use href="#t50" x="661" y="433"/><use href="#t55" x="666" y="433"/><use href="#t48" x="671" y="433"/><use href="#t50" x="676" y="433"/></g><path fill="#0000ff" d="M670 441v2h1v-2zM672 433v3h1v-3zM673 428v4h1v-4zM674 425v3h1v-3zM675 421v4h1v-4zM676 418v3h1v-3zM677 414v4h1v-4zM678 410v4h1v-4zM679 407v3h1v-3zM680 403v4h1v-4zM681 400v3h1v-3zM682 396v4h1v-4zM683 393v3h1v-3zM684 389v4h1v-4zM685 385v4h1v-4zM686 382v3h1v-3zM687 378v4h1v-4zM688 375v3h1v-3zM689 371v4h1v-4zM690 367v4h1v-4zM691 364v3h1v-3zM692 360v4h1v-4zM693 357v3h1v-3zM694 353v4h1v-4zM695 349v4h1v-4zM696 346v3h1v-3zM697 342v4h1v-4zM698 339v3h1v-3zM699 335v4h1v-4zM700 332v3h1v-3zM701 328v4h1v-4zM702 324v4h1v-4zM703 321v3h1v-3zM704 317v4h1v-4zM705 314v3h1v-3zM706 310v4h1v-4zM707 306v4h1v-4zM708 303v3h1v-3zM709 299v4h1v-4zM710 297v2h1v-2z"/><g fill="#000080"><use href="#t56" x="656" y="426"/><use href="#t51" x="661" y="426"/><use href="#t56" x="666" y="426"/><use href="#t56" x="671" y="426"/><use href="#t48" x="676" y="426"/></g><path fill="#808000" d="M670 435v1h1v-1zM671 429v1h1v-1zM672 425v4h1v-4zM673 422v3h1v-3zM674 419v3h1v-3zM675 415v4h1v-4zM676 412v3h1v-3zM677 408v4h1v-4zM678 405v3h1v-3zM679 401v4h1v-4zM680 398v3h1v-3zM681 395v3h1v-3zM682 391v4h1v-4zM683 388v3h1v-3zM684 384v4h1v-4zM685 381v3h1v-3zM686 377v4h1v-4zM687 374v3h1v-3zM688 370v4h1v-4zM689 367v3h1v-3zM690 364v3h1v-3zM691 360v4h1v-4zM692 357v3h1v-3zM693 353v4h1v-4zM694 350v3h1v-3zM695 346v4h1v-4zM696 343v3h1v-3zM697 339v4h1v-4zM698 336v3h1v-3zM699 333v3h1v-3zM700 329v4h1v-4zM701 326v3h1v-3zM702 322v4h1v-4zM703 319v3h1v-3zM704 315v4h1v-4zM705 312v3h1v-3zM706 309v3h1v-3zM707 305v4h1v-4zM708 302v3h1v-3zM709 298v4h1v-4zM710 296v2h1v-2z"/><g fill="#000080"><use href="#t56" x="656" y="412"/><use href="#t54" x="661" y="412"/><use href="#t51" x="666" y="412"/><use href="#t49" x="671" y="412"/><use href="#t48" x="676" y="412"/></g><path fill="#00ffff" d="M670 418v4h1v-4zM671 415v3h1v-3zM672 411v4h1v-4zM673 408v3h1v-3zM674 405v3h1v-3zM675 401v4h1v-4zM676 398v3h1v-3zM677 394v4h1v-4zM678 391v3h1v-3zM679 387v4h1v-4zM680 384v3h1v-3zM681 381v3h1v-3zM682 377v4h1v-4zM683 374v3h1v-3zM684 370v4h1v-4zM685 367v3h1v-3zM686 363v4h1v-4zM687 360v3h1v-3zM688 356v4h1v-4zM689 353v3h1v-3zM690 350v3h1v-3zM691 346v4h1v-4zM692 343v3h1v-3zM693 339v4h1v-4zM694 336v3h1v-3zM695 332v4h1v-4zM696 329v3h1v-3zM697 325v4h1v-4zM698 322v3h1v-3zM699 319v3h1v-3zM700 315v4h1v-4zM701 312v3h1v-3zM702 308v4h1v-4zM703 305v3h1v-3zM704 301v4h1v-4zM705 298v3h1v-3zM706 295v3h1v-3zM707 291v4h1v-4zM708 288v3h1v-3zM709 284v4h1v-4zM710 282v2h1v-2z"/><g fill="#000080"><use href="#t56" x="656" y="420"/><use href="#t52" x="661" y="420"/><use href="#t57" x="666" y="420"/><use href="#t48" x="671" y="420"/><use href="#t50" x="676" y="420"/></g><path fill="#ff00ff" d="M670 427v3h1v-3zM672 420v3h1v-3zM673 416v4h1v-4zM674 413v3h1v-3zM675 409v4h1v-4zM676 406v3h1v-3zM677 402v4h1v-4zM678 399v3h1v-3zM679 396v3h1v-3zM680 392v4h1v-4zM681 389v3h1v-3zM682 385v4h1v-4zM683 382v3h1v-3zM684 379v3h1v-3zM685 375v4h1v-4zM686 372v3h1v-3zM687 368v4h1v-4zM688 365v3h1v-3zM689 361v4h1v-4zM690 358v3h1v-3zM691 355v3h1v-3zM692 351v4h1v-4zM693 348v3h1v-3zM694 344v4h1v-4zM695 341v3h1v-3zM696 338v3h1v-3zM697 334v4h1v-4zM698 331v3h1v-3zM699 327v4h1v-4zM700 324v3h1v-3zM701 321v3h1v-3zM702 317v4h1v-4zM703 314v3h1v-3zM704 310v4h1v-4zM705 307v3h1v-3zM706 303v4h1v-4zM707 300v3h1v-3zM708 297v3h1v-3zM709 293v4h1v-4zM710 291v2h1v-2z"/>
<use href="#mk" x="710" y="247" fill="#ff0000"/><use href="#mk" x="710" y="250" fill="#00ff00"/><use href="#mk" x="710" y="298" fill="#0000ff"/><use href="#mk" x="710" y="297" fill="#808000"/><use href="#mk" x="710" y="292" fill="#ff00ff"/><use href="#mk" x="710" y="283" fill="#00ffff"/><g fill="#000080"><use href="#t49" x="695" y="235"/><use href="#t49" x="700" y="235"/><use href="#t54" x="705" y="235"/><use href="#t56" x="710" y="235"/><use href="#t56" x="715" y="235"/><use href="#t54" x="720" y="235"/></g><path fill="#ff0000" d="M749 239h4v1h-4zM743 240h6v1h-6zM737 241h6v1h-6zM731 242h6v1h-6zM725 243h6v1h-6zM719 244h6v1h-6zM713 245h6v1h-6z"/><g fill="#000080"><use href="#t49" x="695" y="238"/><use href="#t49" x="700" y="238"/><use href="#t54" x="705" y="238"/><use href="#t51" x="710" y="238"/><use href="#t56" x="715" y="238"/><use href="#t56" x="720" y="238"/></g><path fill="#00ff00" d="M752 227h1v1h-1zM750 228h2v1h-2zM748 229h2v1h-2zM746 230h2v1h-2zM744 231h2v1h-2zM742 232h2v1h-2zM740 233h2v1h-2zM738 234h2v1h-2zM736 235h2v1h-2zM734 236h2v1h-2zM732 237h2v1h-2zM731 238h1v1h-1zM729 239h2v1h-2zM727 240h2v1h-2zM725 241h2v1h-2zM723 242h2v1h-2zM721 243h2v1h-2zM719 244h2v1h-2zM717 245h2v1h-2zM715 246h2v1h-2zM714 247h1v1h-1z"/><g fill="#000080"><use href="#t49" x="695" y="286"/><use href="#t48" x="700" y="286"/><use href="#t56" x="705" y="286"/><use href="#t48" x="710" y="286"/><use href="#t51" x="715" y="286"/><use href="#t56" x="720" y="286"/></g><path fill="#0000ff" d="M752 270h1v1h-1zM750 271h2v1h-2zM749 272h1v1h-1zM747 273h2v1h-2zM745 274h2v1h-2zM744 275h1v1h-1zM742 276h2v1h-2zM741 277h1v1h-1zM739 278h2v1h-2zM738 279h1v1h-1zM736 280h2v1h-2zM735 281h1v1h-1zM733 282h2v1h-2zM731 283h2v1h-2zM730 284h1v1h-1zM728 285h2v1h-2zM727 286h1v1h-1zM725 287h2v1h-2zM724 288h1v1h-1zM722 289h2v1h-2zM721 290h1v1h-1zM719 291h2v1h-2zM717 292h2v1h-2zM716 293h1v1h-1zM714 294h2v1h-2zM713 295h1v1h-1z"/><g fill="#000080"><use href="#t49" x="695" y="285"/><use href="#t48" x="700" y="285"/><use href="#t56" x="705" y="285"/><use href="#t50" x="710" y="285"/><use href="#t50" x="715" y="285"/><use href="#t54" x="720" y="285"/></g><path fill="#808000" d="M752 273h1v1h-1zM750 274h2v1h-2zM748 275h2v1h-2zM746 276h2v1h-2zM744 277h2v1h-2zM742 278h2v1h-2zM741 279h1v1h-1zM739 280h2v1h-2zM737 281h2v1h-2zM735 282h2v1h-2zM733 283h2v1h-2zM731 284h2v1h-2zM730 285h1v1h-1zM728 286h2v1h-2zM726 287h2v1h-2zM724 288h2v1h-2zM722 289h2v1h-2zM721 290h1v1h-1zM719 291h2v1h-2zM717 292h2v1h-2zM715 293h2v1h-2zM713 294h2v1h-2z"/><g fill="#000080"><use href="#t49" x="695" y="271"/><use href="#t49" x="700" y="271"/><use href="#t48" x="705" y="271"/><use href="#t55" x="710" y="271"/><use href="#t51" x="715" y="271"/><use href="#t51" x="720" y="271"/></g><path fill="#00ffff" d="M751 262h2v1h-2zM749 263h2v1h-2zM747 264h2v1h-2zM745 265h2v1h-2zM743 266h2v1h-2zM741 267h2v1h-2zM739 268h2v1h-2zM737 269h2v1h-2zM735 270h2v1h-2zM733 271h2v1h-2zM730 272h3v1h-3zM728 273h2v1h-2zM726 274h2v1h-2zM724 275h2v1h-2zM722 276h2v1h-2zM720 277h2v1h-2zM718 278h2v1h-2zM716 279h2v1h-2zM714 280h2v1h-2zM713 281h1v1h-1z"/><g fill="#000080"><use href="#t49" x="695" y="280"/><use href="#t48" x="700" y="280"/><use href="#t57" x="705" y="280"/><use href="#t49" x="710" y="280"/><use href="#t51" x="715" y="280"/><use href="#t49" x="720" y="280"/></g><path fill="#ff00ff" d="M751 271h2v1h-2zM749 272h2v1h-2zM747 273h2v1h-2zM745 274h2v1h-2zM743 275h2v1h-2zM741 276h2v1h-2zM739 277h2v1h-2zM737 278h2v1h-2zM735 279h2v1h-2zM733 280h2v1h-2zM730 281h3v1h-3zM728 282h2v1h-2zM726 283h2v1h-2zM724 284h2v1h-2zM722 285h2v1h-2zM720 286h2v1h-2zM718 287h2v1h-2zM716 288h2v1h-2zM714 289h2v1h-2zM713 290h1v1h-1z"/>
<use href="#mk" x="752" y="240" fill="#ff0000"/><use href="#mk" x="752" y="228" fill="#00ff00"/><use href="#mk" x="752" y="271" fill="#0000ff"/><use href="#mk" x="752" y="274" fill="#808000"/><use href="#mk" x="752" y="272" fill="#ff00ff"/><use href="#mk" x="752" y="263" fill="#00ffff"/><g fill="#000080"><use href="#t49" x="737" y="228"/><use href="#t49" x="742" y="228"/><use href="#t56" x="747" y="228"/><use href="#t48" x="752" y="228"/><use href="#t52" x="757" y="228"/><use href="#t51" x="762" y="228"/></g><path fill="#ff0000" d="M791 231h3v1h-3zM786 232h5v1h-5zM781 233h5v1h-5zM776 234h5v1h-5zM770 235h6v1h-6zM765 236h5v1h-5zM760 237h5v1h-5zM755 238h5v1h-5z"/><g fill="#000080"><use href="#t49" x="737" y="216"/><use href="#t50" x="742" y="216"/><use href="#t48" x="747" y="216"/><use href="#t49" x="752" y="216"/><use href="#t48" x="757" y="216"/><use href="#t53" x="762" y="216"/></g><path fill="#00ff00" d="M791 217h3v1h-3zM787 218h4v1h-4zM783 219h4v1h-4zM779 220h4v1h-4zM775 221h4v1h-4zM771 222h4v1h-4zM767 223h4v1h-4zM763 224h4v1h-4zM759 225h4v1h-4zM755 226h4v1h-4z"/><g fill="#000080"><use href="#t49" x="737" y="259"/><use href="#t49" x="742" y="259"/><use href="#t50" x="747" y="259"/><use href="#t55" x="752" y="259"/><use href="#t52" x="757" y="259"/><use href="#t54" x="762" y="259"/></g><path fill="#0000ff" d="M753 267v2h1v-2zM754 266v1h1v-1zM755 261v2h1v-2zM756 259v2h1v-2zM757 256v3h1v-3zM758 254v2h1v-2zM759 251v3h1v-3zM760 248v3h1v-3zM761 246v2h1v-2zM762 243v3h1v-3zM763 240v3h1v-3zM764 238v2h1v-2zM765 235v3h1v-3zM766 233v2h1v-2zM767 230v3h1v-3zM768 227v3h1v-3zM769 225v2h1v-2zM770 222v3h1v-3zM771 220v2h1v-2zM772 217v3h1v-3zM773 214v3h1v-3zM774 212v2h1v-2zM775 209v3h1v-3zM776 207v2h1v-2zM777 204v3h1v-3zM778 201v3h1v-3zM779 199v2h1v-2zM780 196v3h1v-3zM781 194v2h1v-2zM782 191v3h1v-3zM783 188v3h1v-3zM784 186v2h1v-2zM785 183v3h1v-3zM786 180v3h1v-3zM787 178v2h1v-2zM788 175v3h1v-3zM789 173v2h1v-2zM790 170v3h1v-3zM791 167v3h1v-3zM792 165v2h1v-2zM793 163v2h1v-2z"/><g fill="#000080"><use href="#t49" x="737" y="262"/><use href="#t49" x="742" y="262"/><use href="#t50" x="747" y="262"/><use href="#t50" x="752" y="262"/><use href="#t53" x="757" y="262"/><use href="#t53" x="762" y="262"/></g><path fill="#808000" d="M791 263h3v1h-3zM787 264h4v1h-4zM783 265h4v1h-4zM779 266h4v1h-4zM775 267h4v1h-4zM771 268h4v1h-4zM767 269h4v1h-4zM763 270h4v1h-4zM759 271h4v1h-4zM756 272h3v1h-3z"/><g fill="#000080"><use href="#t49" x="737" y="251"/><use href="#t49" x="742" y="251"/><use href="#t52" x="747" y="251"/><use href="#t49" x="752" y="251"/><use href="#t49" x="757" y="251"/><use href="#t51" x="762" y="251"/></g><path fill="#00ffff" d="M793 234h1v1h-1zM791 235h2v1h-2zM790 236h1v1h-1zM788 237h2v1h-2zM787 238h1v1h-1zM785 239h2v1h-2zM784 240h1v1h-1zM783 241h1v1h-1zM781 242h2v1h-2zM780 243h1v1h-1zM778 244h2v1h-2zM777 245h1v1h-1zM775 246h2v1h-2zM774 247h1v1h-1zM772 248h2v1h-2zM771 249h1v1h-1zM769 250h2v1h-2zM768 251h1v1h-1zM766 252h2v1h-2zM765 253h1v1h-1zM763 254h2v1h-2zM762 255h1v1h-1zM761 256h1v1h-1zM759 257h2v1h-2zM758 258h1v1h-1zM756 259h2v1h-2zM755 260h1v1h-1z"/><g fill="#000080"><use href="#t49" x="737" y="260"/><use href="#t49" x="742" y="260"/><use href="#t50" x="747" y="260"/><use href="#t52" x="752" y="260"/><use href="#t57" x="757" y="260"/><use href="#t57" x="762" y="260"/></g><path fill="#ff00ff" d="M790 265h4v1h-4zM783 266h7v1h-7zM776 267h7v1h-7zM770 268h6v1h-6zM763 269h7v1h-7zM756 270h7v1h-7z"/>
<use href="#mk" x="793" y="232" fill="#ff0000"/><use href="#mk" x="793" y="218" fill="#00ff00"/><use href="#mk" x="793" y="164" fill="#0000ff"/><use href="#mk" x="793" y="264" fill="#808000"/><use href="#mk" x="793" y="266" fill="#ff00ff"/><use href="#mk" x="793" y="235" fill="#00ffff"/><g fill="#000080"><use href="#t49" x="778" y="220"/><use href="#t49" x="783" y="220"/><use href="#t57" x="788" y="220"/><use href="#t52" x="793" y="220"/><use href="#t53" x="798" y="220"/><use href="#t57" x="803" y="220"/></g><path fill="#ff0000" d="M833 218h2v1h-2zM830 219h3v1h-3zM827 220h3v1h-3zM823 221h4v1h-4zM820 222h3v1h-3zM817 223h3v1h-3zM814 224h3v1h-3zM811 225h3v1h-3zM808 226h3v1h-3zM805 227h3v1h-3zM801 228h4v1h-4zM798 229h3v1h-3zM796 230h2v1h-2z"/><g fill="#000080"><use href="#t49" x="778" y="206"/><use href="#t50" x="783" y="206"/><use href="#t49" x="788" y="206"/><use href="#t55" x="793" y="206"/><use href="#t56" x="798" y="206"/><use href="#t53" x="803" y="206"/></g><path fill="#00ff00" d="M796 217h39v1h-39z"/><g fill="#000080"><use href="#t49" x="778" y="152"/><use href="#t51" x="783" y="152"/><use href="#t49" x="788" y="152"/><use href="#t49" x="793" y="152"/><use href="#t52" x="798" y="152"/><use href="#t51" x="803" y="152"/></g><path fill="#0000ff" d="M796 163h39v1h-39z"/><g fill="#000080"><use href="#t49" x="778" y="252"/><use href="#t49" x="783" y="252"/><use href="#t51" x="788" y="252"/><use href="#t57" x="793" y="252"/><use href="#t53" x="798" y="252"/><use href="#t52" x="803" y="252"/></g><path fill="#808000" d="M796 263h39v1h-39z"/><g fill="#000080"><use href="#t49" x="778" y="223"/><use href="#t49" x="783" y="223"/><use href="#t56" x="788" y="223"/><use href="#t56" x="793" y="223"/><use href="#t56" x="798" y="223"/><use href="#t55" x="803" y="223"/></g><path fill="#00ffff" d="M829 230h6v1h-6zM819 231h10v1h-10zM809 232h10v1h-10zM799 233h10v1h-10zM796 234h3v1h-3z"/><g fill="#000080"><use href="#t49" x="778" y="254"/><use href="#t49" x="783" y="254"/><use href="#t51" x="788" y="254"/><use href="#t54" x="793" y="254"/><use href="#t55" x="798" y="254"/><use href="#t50" x="803" y="254"/></g><path fill="#ff00ff" d="M796 265h39v1h-39z"/>
<use href="#mk" x="834" y="219" fill="#ff0000"/><use href="#mk" x="834" y="218" fill="#00ff00"/><use href="#mk" x="834" y="164" fill="#0000ff"/><use href="#mk" x="834" y="264" fill="#808000"/><use href="#mk" x="834" y="266" fill="#ff00ff"/><use href="#mk" x="834" y="231" fill="#00ffff"/><g fill="#000080"><use href="#t49" x="819" y="207"/><use href="#t50" x="824" y="207"/><use href="#t49" x="829" y="207"/><use href="#t55" x="834" y="207"/><use href="#t52" x="839" y="207"/><use href="#t53" x="844" y="207"/></g><path fill="#ff0000" d="M838 218h38v1h-38z"/><g fill="#000080"><use href="#t49" x="819" y="206"/><use href="#t50" x="824" y="206"/><use href="#t49" x="829" y="206"/><use href="#t55" x="834" y="206"/><use href="#t56" x="839" y="206"/><use href="#t53" x="844" y="206"/></g><path fill="#00ff00" d="M835 215v1h1v-1zM836 214v1h1v-1zM837 212v2h1v-2zM838 210v2h1v-2zM839 209v1h1v-1zM840 207v2h1v-2zM841 206v1h1v-1zM842 204v2h1v-2zM843 202v2h1v-2zM844 201v1h1v-1zM845 199v2h1v-2zM846 198v1h1v-1zM847 196v2h1v-2zM848 195v1h1v-1zM849 193v2h1v-2zM850 191v2h1v-2zM851 190v1h1v-1zM852 188v2h1v-2zM853 187v1h1v-1zM854 185v2h1v-2zM855 183v2h1v-2zM856 182v1h1v-1zM857 180v2h1v-2zM858 179v1h1v-1zM859 177v2h1v-2zM860 175v2h1v-2zM861 174v1h1v-1zM862 172v2h1v-2zM863 171v1h1v-1zM864 169v2h1v-2zM865 168v1h1v-1zM866 166v2h1v-2zM867 164v2h1v-2zM868 163v1h1v-1zM869 161v2h1v-2zM870 160v1h1v-1zM871 158v2h1v-2zM872 156v2h1v-2zM873 155v1h1v-1zM874 153v2h1v-2zM875 152v1h1v-1z"/><g fill="#000080"><use href="#t49" x="819" y="152"/><use href="#t51" x="824" y="152"/><use href="#t49" x="829" y="152"/><use href="#t49" x="834" y="152"/><use href="#t52" x="839" y="152"/><use href="#t51" x="844" y="152"/></g><path fill="#0000ff" d="M871 158h5v1h-5zM863 159h8v1h-8zM855 160h8v1h-8zM847 161h8v1h-8zM839 162h8v1h-8zM837 163h2v1h-2z"/><g fill="#000080"><use href="#t49" x="819" y="252"/><use href="#t49" x="824" y="252"/><use href="#t51" x="829" y="252"/><use href="#t57" x="834" y="252"/><use href="#t53" x="839" y="252"/><use href="#t52" x="844" y="252"/></g><path fill="#808000" d="M835 259v3h1v-3zM836 256v3h1v-3zM837 253v3h1v-3zM838 250v3h1v-3zM839 247v3h1v-3zM840 244v3h1v-3zM841 241v3h1v-3zM842 238v3h1v-3zM843 235v3h1v-3zM844 232v3h1v-3zM845 229v3h1v-3zM846 226v3h1v-3zM847 223v3h1v-3zM848 220v3h1v-3zM849 217v3h1v-3zM850 214v3h1v-3zM851 211v3h1v-3zM852 208v3h1v-3zM853 205v3h1v-3zM854 202v3h1v-3zM855 200v2h1v-2zM856 197v3h1v-3zM857 194v3h1v-3zM858 191v3h1v-3zM859 188v3h1v-3zM860 185v3h1v-3zM861 182v3h1v-3zM862 179v3h1v-3zM863 176v3h1v-3zM864 173v3h1v-3zM865 170v3h1v-3zM866 167v3h1v-3zM867 164v3h1v-3zM868 161v3h1v-3zM869 158v3h1v-3zM870 155v3h1v-3zM871 152v3h1v-3zM872 149v3h1v-3zM873 146v3h1v-3zM874 143v3h1v-3zM875 141v2h1v-2z"/><g fill="#000080"><use href="#t49" x="819" y="219"/><use href="#t49" x="824" y="219"/><use href="#t57" x="829" y="219"/><use href="#t53" x="834" y="219"/><use href="#t56" x="839" y="219"/><use href="#t54" x="844" y="219"/></g><path fill="#00ffff" d="M874 211h2v1h-2zM872 212h2v1h-2zM870 213h2v1h-2zM868 214h2v1h-2zM866 215h2v1h-2zM864 216h2v1h-2zM861 217h3v1h-3zM859 218h2v1h-2zM857 219h2v1h-2zM855 220h2v1h-2zM853 221h2v1h-2zM851 222h2v1h-2zM849 223h2v1h-2zM846 224h3v1h-3zM844 225h2v1h-2zM842 226h2v1h-2zM840 227h2v1h-2zM838 228h2v1h-2zM837 229h1v1h-1z"/><g fill="#000080"><use href="#t49" x="819" y="254"/><use href="#t49" x="824" y="254"/><use href="#t51" x="829" y="254"/><use href="#t54" x="834" y="254"/><use href="#t55" x="839" y="254"/><use href="#t50" x="844" y="254"/></g><path fill="#ff00ff" d="M871 260h5v1h-5zM863 261h8v1h-8zM855 262h8v1h-8zM847 263h8v1h-8zM839 264h8v1h-8zM837 265h2v1h-2z"/>
<use href="#mk" x="875" y="219" fill="#ff0000"/><use href="#mk" x="875" y="153" fill="#00ff00"/><use href="#mk" x="875" y="159" fill="#0000ff"/><use href="#mk" x="875" y="142" fill="#808000"/><use href="#mk" x="875" y="261" fill="#ff00ff"/><use href="#mk" x="875" y="212" fill="#00ffff"/><g fill="#000080"><use href="#t49" x="860" y="207"/><use href="#t50" x="865" y="207"/><use href="#t49" x="870" y="207"/><use href="#t54" x="875" y="207"/><use href="#t49" x="880" y="207"/><use href="#t48" x="885" y="207"/></g><path fill="#ff0000" d="M876 216v1h1v-1zM877 215v1h1v-1zM878 213v2h1v-2zM879 212v1h1v-1zM880 211v1h1v-1zM881 209v2h1v-2zM882 208v1h1v-1zM883 206v2h1v-2zM884 205v1h1v-1zM885 203v2h1v-2zM886 202v1h1v-1zM887 201v1h1v-1zM888 199v2h1v-2zM889 198v1h1v-1zM890 196v2h1v-2zM891 195v1h1v-1zM892 193v2h1v-2zM893 192v1h1v-1zM894 191v1h1v-1zM895 189v2h1v-2zM896 188v1h1v-1zM897 186v2h1v-2zM898 185v1h1v-1zM899 183v2h1v-2zM900 182v1h1v-1zM901 181v1h1v-1zM902 179v2h1v-2zM903 178v1h1v-1zM904 176v2h1v-2zM905 175v1h1v-1zM906 173v2h1v-2zM907 172v1h1v-1zM908 171v1h1v-1zM909 169v2h1v-2zM910 168v1h1v-1zM911 166v2h1v-2zM912 165v1h1v-1zM913 163v2h1v-2zM914 162v1h1v-1zM915 161v1h1v-1zM916 159v2h1v-2zM917 158v1h1v-1z"/><g fill="#000080"><use href="#t49" x="860" y="141"/><use href="#t51" x="865" y="141"/><use href="#t51" x="870" y="141"/><use href="#t48" x="875" y="141"/><use href="#t57" x="880" y="141"/><use href="#t48" x="885" y="141"/></g><path fill="#00ff00" d="M878 152h40v1h-40z"/><g fill="#000080"><use href="#t49" x="860" y="147"/><use href="#t51" x="865" y="147"/><use href="#t50" x="870" y="147"/><use href="#t48" x="875" y="147"/><use href="#t50" x="880" y="147"/><use href="#t57" x="885" y="147"/></g><path fill="#0000ff" d="M878 158h40v1h-40z"/><g fill="#000080"><use href="#t49" x="860" y="130"/><use href="#t51" x="865" y="130"/><use href="#t52" x="870" y="130"/><use href="#t57" x="875" y="130"/><use href="#t54" x="880" y="130"/><use href="#t55" x="885" y="130"/></g><path fill="#808000" d="M876 137v3h1v-3zM877 134v3h1v-3zM878 131v3h1v-3zM879 129v2h1v-2zM880 126v3h1v-3zM881 123v3h1v-3zM882 120v3h1v-3zM883 117v3h1v-3zM884 114v3h1v-3zM885 111v3h1v-3zM886 109v2h1v-2zM887 106v3h1v-3zM888 103v3h1v-3zM889 100v3h1v-3zM890 97v3h1v-3zM891 94v3h1v-3zM892 91v3h1v-3zM893 89v2h1v-2zM894 86v3h1v-3zM895 83v3h1v-3zM896 80v3h1v-3zM897 77v3h1v-3zM898 74v3h1v-3zM899 71v3h1v-3zM900 69v2h1v-2zM901 66v3h1v-3zM902 63v3h1v-3zM903 60v3h1v-3zM904 57v3h1v-3zM905 54v3h1v-3zM906 51v3h1v-3zM907 49v2h1v-2zM908 46v3h1v-3zM909 43v3h1v-3zM910 40v3h1v-3zM911 37v3h1v-3zM912 34v3h1v-3zM913 31v3h1v-3zM914 29v2h1v-2zM915 26v3h1v-3zM916 23v3h1v-3zM917 21v2h1v-2z"/><g fill="#000080"><use href="#t49" x="860" y="200"/><use href="#t50" x="865" y="200"/><use href="#t50" x="870" y="200"/><use href="#t56" x="875" y="200"/><use href="#t54" x="880" y="200"/><use href="#t55" x="885" y="200"/></g><path fill="#00ffff" d="M878 211h40v1h-40z"/><g fill="#000080"><use href="#t49" x="860" y="249"/><use href="#t49" x="865" y="249"/><use href="#t52" x="870" y="249"/><use href="#t51" x="875" y="249"/><use href="#t57" x="880" y="249"/><use href="#t54" x="885" y="249"/></g><path fill="#ff00ff" d="M876 256v3h1v-3zM877 253v3h1v-3zM878 250v3h1v-3zM879 247v3h1v-3zM880 243v4h1v-4zM881 240v3h1v-3zM882 237v3h1v-3zM883 234v3h1v-3zM884 231v3h1v-3zM885 228v3h1v-3zM886 225v3h1v-3zM887 222v3h1v-3zM888 219v3h1v-3zM889 216v3h1v-3zM890 213v3h1v-3zM891 209v4h1v-4zM892 206v3h1v-3zM893 203v3h1v-3zM894 200v3h1v-3zM895 197v3h1v-3zM896 194v3h1v-3zM897 191v3h1v-3zM898 188v3h1v-3zM899 185v3h1v-3zM900 182v3h1v-3zM901 178v4h1v-4zM902 175v3h1v-3zM903 172v3h1v-3zM904 169v3h1v-3zM905 166v3h1v-3zM906 163v3h1v-3zM907 160v3h1v-3zM908 157v3h1v-3zM909 154v3h1v-3zM910 151v3h1v-3zM911 148v3h1v-3zM912 144v4h1v-4zM913 141v3h1v-3zM914 138v3h1v-3zM915 135v3h1v-3zM916 132v3h1v-3zM917 130v2h1v-2z"/>
<use href="#mk" x="917" y="159" fill="#ff0000"/><use href="#mk" x="917" y="153" fill="#00ff00"/><use href="#mk" x="917" y="159" fill="#0000ff"/><use href="#mk" x="917" y="22" fill="#808000"/><use href="#mk" x="917" y="131" fill="#ff00ff"/><use href="#mk" x="917" y="212" fill="#00ffff"/><g fill="#000080"><use href="#t49" x="902" y="147"/><use href="#t51" x="907" y="147"/><use href="#t50" x="912" y="147"/><use href="#t48" x="917" y="147"/><use href="#t56" x="922" y="147"/><use href="#t57" x="927" y="147"/></g><path fill="#ff0000" d="M958 135h1v1h-1zM956 136h2v1h-2zM954 137h2v1h-2zM952 138h2v1h-2zM950 139h2v1h-2zM949 140h1v1h-1zM947 141h2v1h-2zM945 142h2v1h-2zM943 143h2v1h-2zM942 144h1v1h-1zM940 145h2v1h-2zM938 146h2v1h-2zM936 147h2v1h-2zM934 148h2v1h-2zM933 149h1v1h-1zM931 150h2v1h-2zM929 151h2v1h-2zM927 152h2v1h-2zM926 153h1v1h-1zM924 154h2v1h-2zM922 155h2v1h-2zM920 156h2v1h-2z"/><g fill="#000080"><use href="#t49" x="902" y="141"/><use href="#t51" x="907" y="141"/><use href="#t51" x="912" y="141"/><use href="#t48" x="917" y="141"/><use href="#t57" x="922" y="141"/><use href="#t48" x="927" y="141"/></g><path fill="#00ff00" d="M918 150v1h1v-1zM919 148v2h1v-2zM920 147v1h1v-1zM921 145v2h1v-2zM922 143v2h1v-2zM923 142v1h1v-1zM924 140v2h1v-2zM925 138v2h1v-2zM926 137v1h1v-1zM927 135v2h1v-2zM928 133v2h1v-2zM929 132v1h1v-1zM930 130v2h1v-2zM931 128v2h1v-2zM932 127v1h1v-1zM933 125v2h1v-2zM934 123v2h1v-2zM935 122v1h1v-1zM936 120v2h1v-2zM937 118v2h1v-2zM938 117v1h1v-1zM939 115v2h1v-2zM940 114v1h1v-1zM941 112v2h1v-2zM942 110v2h1v-2zM943 109v1h1v-1zM944 107v2h1v-2zM945 105v2h1v-2zM946 104v1h1v-1zM947 102v2h1v-2zM948 100v2h1v-2zM949 99v1h1v-1zM950 97v2h1v-2zM951 95v2h1v-2zM952 94v1h1v-1zM953 92v2h1v-2zM954 90v2h1v-2zM955 89v1h1v-1zM956 87v2h1v-2zM957 85v2h1v-2zM958 84v1h1v-1z"/><g fill="#000080"><use href="#t49" x="902" y="147"/><use href="#t51" x="907" y="147"/><use href="#t50" x="912" y="147"/><use href="#t48" x="917" y="147"/><use href="#t50" x="922" y="147"/><use href="#t57" x="927" y="147"/></g><path fill="#0000ff" d="M919 156v1h1v-1zM920 154v1h1v-1zM921 153v1h1v-1zM922 151v2h1v-2zM923 150v1h1v-1zM924 149v1h1v-1zM925 147v2h1v-2zM926 146v1h1v-1zM927 145v1h1v-1zM928 143v2h1v-2zM929 142v1h1v-1zM930 141v1h1v-1zM931 139v2h1v-2zM932 138v1h1v-1zM933 137v1h1v-1zM934 135v2h1v-2zM935 134v1h1v-1zM936 133v1h1v-1zM937 131v2h1v-2zM938 130v1h1v-1zM939 129v1h1v-1zM940 128v1h1v-1zM941 126v2h1v-2zM942 125v1h1v-1zM943 124v1h1v-1zM944 122v2h1v-2zM945 121v1h1v-1zM946 120v1h1v-1zM947 118v2h1v-2zM948 117v1h1v-1zM949 116v1h1v-1zM950 114v2h1v-2zM951 113v1h1v-1zM952 112v1h1v-1zM953 110v2h1v-2zM954 109v1h1v-1zM955 108v1h1v-1zM956 106v2h1v-2zM957 105v1h1v-1zM958 104v1h1v-1z"/><g fill="#000080"><use href="#t49" x="902" y="10"/><use href="#t53" x="907" y="10"/><use href="#t53" x="912" y="10"/><use href="#t54" x="917" y="10"/><use href="#t53" x="922" y="10"/><use href="#t51" x="927" y="10"/></g><path fill="#808000" d="M920 21h39v1h-39z"/><g fill="#000080"><use href="#t49" x="902" y="200"/><use href="#t50" x="907" y="200"/><use href="#t50" x="912" y="200"/><use href="#t56" x="917" y="200"/><use href="#t54" x="922" y="200"/><use href="#t55" x="927" y="200"/></g><path fill="#00ffff" d="M918 209v1h1v-1zM919 208v1h1v-1zM920 206v2h1v-2zM921 205v1h1v-1zM922 203v2h1v-2zM923 202v1h1v-1zM924 200v2h1v-2zM925 199v1h1v-1zM926 197v2h1v-2zM927 196v1h1v-1zM928 194v2h1v-2zM929 193v1h1v-1zM930 191v2h1v-2zM931 190v1h1v-1zM932 188v2h1v-2zM933 187v1h1v-1zM934 185v2h1v-2zM935 184v1h1v-1zM936 182v2h1v-2zM937 181v1h1v-1zM938 180v1h1v-1zM939 178v2h1v-2zM940 177v1h1v-1zM941 175v2h1v-2zM942 174v1h1v-1zM943 172v2h1v-2zM944 171v1h1v-1zM945 169v2h1v-2zM946 168v1h1v-1zM947 166v2h1v-2zM948 165v1h1v-1zM949 163v2h1v-2zM950 162v1h1v-1zM951 160v2h1v-2zM952 159v1h1v-1zM953 157v2h1v-2zM954 156v1h1v-1zM955 154v2h1v-2zM956 153v1h1v-1zM957 151v2h1v-2zM958 150v1h1v-1z"/><g fill="#000080"><use href="#t49" x="902" y="119"/><use href="#t51" x="907" y="119"/><use href="#t54" x="912" y="119"/><use href="#t55" x="917" y="119"/><use href="#t55" x="922" y="119"/><use href="#t57" x="927" y="119"/></g><path fill="#ff00ff" d="M918 128v1h1v-1zM919 127v1h1v-1zM920 125v2h1v-2zM921 124v1h1v-1zM922 122v2h1v-2zM923 121v1h1v-1zM924 119v2h1v-2zM925 118v1h1v-1zM926 116v2h1v-2zM927 115v1h1v-1zM928 113v2h1v-2zM929 112v1h1v-1zM930 110v2h1v-2zM931 109v1h1v-1zM932 107v2h1v-2zM933 106v1h1v-1zM934 104v2h1v-2zM935 103v1h1v-1zM936 101v2h1v-2zM937 100v1h1v-1zM938 99v1h1v-1zM939 97v2h1v-2zM940 96v1h1v-1zM941 94v2h1v-2zM942 93v1h1v-1zM943 91v2h1v-2zM944 90v1h1v-1zM945 88v2h1v-2zM946 87v1h1v-1zM947 85v2h1v-2zM948 84v1h1v-1zM949 82v2h1v-2zM950 81v1h1v-1zM951 79v2h1v-2zM952 78v1h1v-1zM953 76v2h1v-2zM954 75v1h1v-1zM955 73v2h1v-2zM956 72v1h1v-1zM957 70v2h1v-2zM958 69v1h1v-1z"/>
<use href="#mk" x="958" y="136" fill="#ff0000"/><use href="#mk" x="958" y="85" fill="#00ff00"/><use href="#mk" x="958" y="105" fill="#0000ff"/><use href="#mk" x="958" y="22" fill="#808000"/><use href="#mk" x="958" y="70" fill="#ff00ff"/><use href="#mk" x="958" y="151" fill="#00ffff"/><g fill="#000080"><use href="#t49" x="943" y="124"/><use href="#t51" x="948" y="124"/><use href="#t54" x="953" y="124"/><use href="#t48" x="958" y="124"/><use href="#t50" x="963" y="124"/><use href="#t52" x="968" y="124"/></g><g fill="#000080"><use href="#t49" x="943" y="73"/><use href="#t52" x="948" y="73"/><use href="#t52" x="953" y="73"/><use href="#t55" x="958" y="73"/><use href="#t53" x="963" y="73"/><use href="#t50" x="968" y="73"/></g><g fill="#000080"><use href="#t49" x="943" y="93"/><use href="#t52" x="948" y="93"/><use href="#t49" x="953" y="93"/><use href="#t51" x="958" y="93"/><use href="#t57" x="963" y="93"/><use href="#t52" x="968" y="93"/></g><g fill="#000080"><use href="#t49" x="943" y="10"/><use href="#t53" x="948" y="10"/><use href="#t53" x="953" y="10"/><use href="#t54" x="958" y="10"/><use href="#t53" x="963" y="10"/><use href="#t51" x="968" y="10"/></g><g fill="#000080"><use href="#t49" x="943" y="139"/><use href="#t51" x="948" y="139"/><use href="#t51" x="953" y="139"/><use href="#t51" x="958" y="139"/><use href="#t54" x="963" y="139"/><use href="#t55" x="968" y="139"/></g><g fill="#000080"><use href="#t49" x="943" y="58"/><use href="#t52" x="948" y="58"/><use href="#t55" x="953" y="58"/><use href="#t51" x="958" y="58"/><use href="#t55" x="963" y="58"/><use href="#t54" x="968" y="58"/></g>
</g>
<g id="legend"><g fill="#ff0000"><rect x="102" y="594" width="13" height="2"/><use href="#mk5" x="108" y="595"/></g><g fill="#000080"><use href="#t66" x="118" y="591"/><use href="#t117" x="123" y="591"/><use href="#t110" x="128" y="591"/><use href="#t100" x="133" y="591"/></g><g fill="#00ff00"><rect x="236" y="594" width="13" height="2"/><use href="#mk5" x="242" y="595"/></g><g fill="#000080"><use href="#t66" x="252" y="591"/><use href="#t97" x="257" y="591"/><use href="#t121" x="262" y="591"/><use href="#t101" x="267" y="591"/><use href="#t114" x="272" y="591"/><use href="#t110" x="277" y="591"/></g><g fill="#0000ff"><rect x="370" y="594" width="13" height="2"/><use href="#mk5" x="376" y="595"/></g><g fill="#000080"><use href="#t66" x="386" y="591"/><use href="#t101" x="391" y="591"/><use href="#t114" x="396" y="591"/><use href="#t108" x="401" y="591"/><use href="#t105" x="406" y="591"/><use href="#t110" x="411" y="591"/></g><g fill="#808000"><rect x="504" y="594" width="13" height="2"/><use href="#mk5" x="510" y="595"/></g><g fill="#000080"><use href="#t66" x="520" y="591"/><use href="#t114" x="525" y="591"/><use href="#t97" x="530" y="591"/><use href="#t110" x="535" y="591"/><use href="#t100" x="540" y="591"/><use href="#t101" x="545" y="591"/><use href="#t110" x="550" y="591"/><use href="#t98" x="555" y="591"/><use href="#t117" x="560" y="591"/><use href="#t114" x="565" y="591"/><use href="#t103" x="570" y="591"/></g><g fill="#ff00ff"><rect x="638" y="594" width="13" height="2"/><use href="#mk5" x="644" y="595"/></g><g fill="#000080"><use href="#t77" x="654" y="591"/><use href="#t101" x="659" y="591"/><use href="#t99" x="664" y="591"/><use href="#t107" x="669" y="591"/><use href="#t108" x="674" y="591"/><use href="#t101" x="679" y="591"/><use href="#t110" x="684" y="591"/><use href="#t98" x="689" y="591"/><use href="#t117" x="694" y="591"/><use href="#t114" x="699" y="591"/><use href="#t103" x="704" y="591"/><use href="#t45" x="709" y="591"/><use href="#t86" x="714" y="591"/><use href="#t111" x="719" y="591"/><use href="#t114" x="724" y="591"/><use href="#t112" x="729" y="591"/><use href="#t111" x="734" y="591"/><use href="#t109" x="739" y="591"/><use href="#t109" x="744" y="591"/><use href="#t101" x="749" y="591"/><use href="#t114" x="754" y="591"/><use href="#t110" x="759" y="591"/></g><g fill="#00ffff"><rect x="772" y="594" width="13" height="2"/><use href="#mk5" x="778" y="595"/></g><g fill="#000080"><use href="#t83" x="788" y="591"/><use href="#t99" x="793" y="591"/><use href="#t104" x="798" y="591"/><use href="#t108" x="803" y="591"/><use href="#t101" x="808" y="591"/><use href="#t115" x="813" y="591"/><use href="#t119" x="818" y="591"/><use href="#t105" x="823" y="591"/><use href="#t103" x="828" y="591"/><use href="#t45" x="833" y="591"/><use href="#t72" x="838" y="591"/><use href="#t111" x="843" y="591"/><use href="#t108" x="848" y="591"/><use href="#t115" x="853" y="591"/><use href="#t116" x="858" y="591"/><use href="#t101" x="863" y="591"/><use href="#t105" x="868" y="591"/><use href="#t110" x="873" y="591"/></g></g>
</svg>
</body></html>
